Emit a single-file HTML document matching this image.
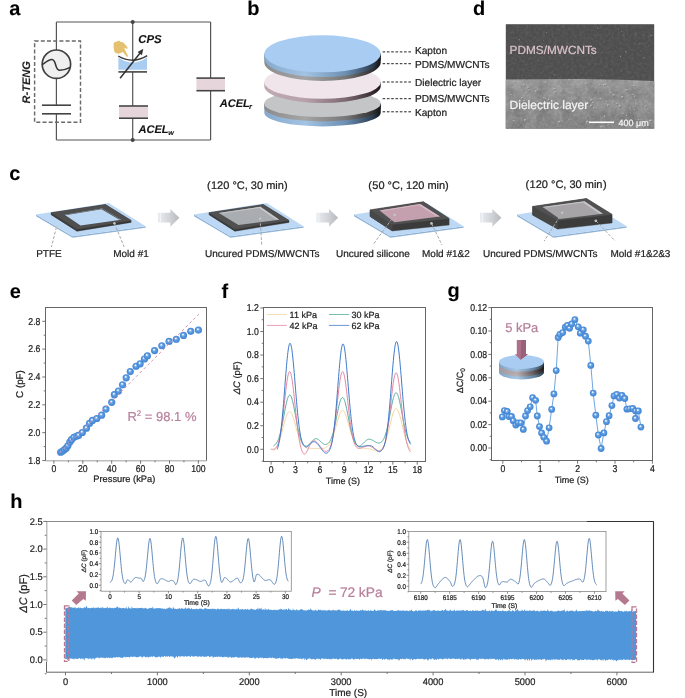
<!DOCTYPE html>
<html><head><meta charset="utf-8"><style>
html,body{margin:0;padding:0;background:#fff;}
body{width:685px;height:698px;overflow:hidden;}
svg{display:block;font-family:"Liberation Sans", sans-serif;will-change:transform;text-rendering:geometricPrecision;}
</style></head><body>
<svg width="685" height="698" viewBox="0 0 685 698">
<defs><linearGradient id="gBlue" x1="0" y1="0" x2="1" y2="0"><stop offset="0" stop-color="#86a9cc"/><stop offset="0.35" stop-color="#a3c3e3"/><stop offset="0.7" stop-color="#6d8fb2"/><stop offset="0.93" stop-color="#2c3e52"/><stop offset="1" stop-color="#111"/></linearGradient><linearGradient id="gGray" x1="0" y1="0" x2="1" y2="0"><stop offset="0" stop-color="#8c8c8c"/><stop offset="0.35" stop-color="#a5a5a5"/><stop offset="0.7" stop-color="#777"/><stop offset="0.93" stop-color="#333"/><stop offset="1" stop-color="#111"/></linearGradient><linearGradient id="gPink" x1="0" y1="0" x2="1" y2="0"><stop offset="0" stop-color="#bfaab2"/><stop offset="0.35" stop-color="#b8a2aa"/><stop offset="0.7" stop-color="#7c6870"/><stop offset="0.93" stop-color="#3a2e33"/><stop offset="1" stop-color="#1a1418"/></linearGradient><linearGradient id="gSemTop" x1="0" y1="0" x2="0" y2="1"><stop offset="0" stop-color="#4e4e4e"/><stop offset="0.8" stop-color="#4f4f4f"/><stop offset="1" stop-color="#545454"/></linearGradient><linearGradient id="gSemBot" x1="0" y1="0" x2="0" y2="1"><stop offset="0" stop-color="#a2a2a2"/><stop offset="0.25" stop-color="#959595"/><stop offset="1" stop-color="#898989"/></linearGradient><filter id="semNoise" x="0" y="0" width="1" height="1"><feTurbulence type="fractalNoise" baseFrequency="0.35" numOctaves="2" seed="4"/><feColorMatrix type="matrix" values="0 0 0 0 1  0 0 0 0 1  0 0 0 0 1  0.9 0 0 0 -0.35"/></filter><filter id="semNoise2" x="0" y="0" width="1" height="1"><feTurbulence type="fractalNoise" baseFrequency="0.08" numOctaves="3" seed="9"/><feColorMatrix type="matrix" values="0 0 0 0 0  0 0 0 0 0  0 0 0 0 0  0.9 0 0 0 -0.3"/></filter><clipPath id="semBotClip"><path d="M505.8,79.6 L540,79.2 L580,79.1 L620,79.8 L654.2,80.9 L654.2,128.6 L505.8,128.6 Z"/></clipPath><linearGradient id="ga157" x1="0" y1="0" x2="1" y2="0"><stop offset="0" stop-color="#eaeef2"/><stop offset="0.6" stop-color="#cdd0d4"/><stop offset="1" stop-color="#b6b8bb"/></linearGradient><linearGradient id="ga316" x1="0" y1="0" x2="1" y2="0"><stop offset="0" stop-color="#eaeef2"/><stop offset="0.6" stop-color="#cdd0d4"/><stop offset="1" stop-color="#b6b8bb"/></linearGradient><linearGradient id="ga480" x1="0" y1="0" x2="1" y2="0"><stop offset="0" stop-color="#eaeef2"/><stop offset="0.6" stop-color="#cdd0d4"/><stop offset="1" stop-color="#b6b8bb"/></linearGradient><radialGradient id="sph" cx="0.5" cy="0.5" r="0.5" fx="0.4" fy="0.34"><stop offset="0" stop-color="#ffffff"/><stop offset="0.14" stop-color="#e4effb"/><stop offset="0.36" stop-color="#72aae6"/><stop offset="0.7" stop-color="#4c8fdb"/><stop offset="1" stop-color="#4686d2"/></radialGradient><linearGradient id="gDiscSide" x1="0" y1="0" x2="1" y2="0"><stop offset="0" stop-color="#9a9a9a"/><stop offset="0.4" stop-color="#b5b5b5"/><stop offset="0.75" stop-color="#6a6a6a"/><stop offset="1" stop-color="#222"/></linearGradient><linearGradient id="gDiscBlue" x1="0" y1="0" x2="1" y2="0"><stop offset="0" stop-color="#7fa3c8"/><stop offset="0.4" stop-color="#a7c7e8"/><stop offset="0.8" stop-color="#5f7f9f"/><stop offset="1" stop-color="#2a3a4a"/></linearGradient><linearGradient id="gDiscPink" x1="0" y1="0" x2="1" y2="0"><stop offset="0" stop-color="#a89aa0"/><stop offset="0.4" stop-color="#b8a8b0"/><stop offset="0.75" stop-color="#6a5a62"/><stop offset="1" stop-color="#1a1418"/></linearGradient></defs>
<text x="9.30" y="14.60" font-size="20" fill="#000" stroke="#000" stroke-width="0.1" font-weight="bold" font-style="normal" text-anchor="start" >a</text>
<text x="247.30" y="14.60" font-size="20" fill="#000" stroke="#000" stroke-width="0.1" font-weight="bold" font-style="normal" text-anchor="start" >b</text>
<text x="473.00" y="14.60" font-size="20" fill="#000" stroke="#000" stroke-width="0.1" font-weight="bold" font-style="normal" text-anchor="start" >d</text>
<text x="9.20" y="179.80" font-size="20" fill="#000" stroke="#000" stroke-width="0.1" font-weight="bold" font-style="normal" text-anchor="start" >c</text>
<text x="9.80" y="298.30" font-size="20" fill="#000" stroke="#000" stroke-width="0.1" font-weight="bold" font-style="normal" text-anchor="start" >e</text>
<text x="221.50" y="298.30" font-size="20" fill="#000" stroke="#000" stroke-width="0.1" font-weight="bold" font-style="normal" text-anchor="start" >f</text>
<text x="447.50" y="296.50" font-size="20" fill="#000" stroke="#000" stroke-width="0.1" font-weight="bold" font-style="normal" text-anchor="start" >g</text>
<text x="10.20" y="508.20" font-size="20" fill="#000" stroke="#000" stroke-width="0.1" font-weight="bold" font-style="normal" text-anchor="start" >h</text>
<line x1="56.40" y1="22.00" x2="210.60" y2="22.00" stroke="#555" stroke-width="1.2" />
<line x1="56.40" y1="140.00" x2="210.60" y2="140.00" stroke="#555" stroke-width="1.2" />
<line x1="56.40" y1="22.00" x2="56.40" y2="50.00" stroke="#555" stroke-width="1.2" />
<line x1="56.40" y1="78.40" x2="56.40" y2="105.20" stroke="#555" stroke-width="1.2" />
<line x1="56.40" y1="113.80" x2="56.40" y2="140.00" stroke="#555" stroke-width="1.2" />
<circle cx="56.4" cy="64.2" r="14.2" fill="#efefef" stroke="#404040" stroke-width="1.7"/>
<path d="M42.2,64.6 C46,62 49,59.4 51.9,59.6 C54.6,59.8 55.1,63 56,66 C56.9,69 57.6,70.3 59.6,70.3 C63,70.3 66.5,69.3 70.2,67.4" fill="none" stroke="#333" stroke-width="1.5" />
<line x1="42.00" y1="105.20" x2="71.00" y2="105.20" stroke="#444" stroke-width="1.6" />
<line x1="42.00" y1="113.80" x2="71.00" y2="113.80" stroke="#444" stroke-width="1.6" />
<rect x="34.6" y="40.9" width="45.9" height="81.3" fill="none" stroke="#6a6a6a" stroke-width="1.45" stroke-dasharray="4,2.2"/>
<text x="29.60" y="82.30" font-size="11" fill="#222" stroke="#222" stroke-width="0.1" font-weight="bold" font-style="italic" text-anchor="middle" transform="rotate(-90 29.6 82.3)">R-TENG</text>
<line x1="132.70" y1="22.00" x2="132.70" y2="60.00" stroke="#555" stroke-width="1.2" />
<line x1="132.70" y1="72.00" x2="132.70" y2="106.00" stroke="#555" stroke-width="1.2" />
<line x1="132.70" y1="118.20" x2="132.70" y2="140.00" stroke="#555" stroke-width="1.2" />
<circle cx="132.7" cy="22" r="2" fill="#444"/><circle cx="132.7" cy="140" r="2" fill="#444"/>
<path d="M118.4,57.6 Q132.7,67.6 147,57.6 L147,69.8 L118.4,69.8 Z" fill="#a9cdf0" stroke="none" stroke-width="1" />
<path d="M118.2,56 Q132.7,64.6 147.2,55.6" fill="none" stroke="#3a3a3a" stroke-width="1.4" />
<line x1="118.40" y1="71.90" x2="147.00" y2="71.90" stroke="#444" stroke-width="1.6" />
<line x1="120.10" y1="78.30" x2="141.50" y2="51.20" stroke="#333" stroke-width="1.5" />
<polygon points="143.30,48.80 137.60,51.90 141.90,55.30" fill="#333" stroke="none" stroke-width="1" />
<path d="M113.6,44 C113.5,42.5 115.5,42 117,41.6 L119,40.5 L120.5,41.8 C122,42 123.5,42.5 124.3,43.5 L127.3,47 C128,48 127.3,49.2 126.3,48.7 L124.8,47.6 L124.5,49 L127.9,55.5 C128.3,56.5 127.2,57.3 126.4,56.5 L122.8,51.8 C121.5,53 119.5,53.8 117.5,53.6 C115.5,53.4 114.2,52 113.9,50 C113.6,48 113.6,46 113.6,44 Z" fill="#e4c070" stroke="none" stroke-width="1" />
<text x="138.30" y="42.70" font-size="11.4" fill="#111" stroke="#111" stroke-width="0.1" font-weight="bold" font-style="italic" text-anchor="start" >CPS</text>
<rect x="119" y="106.8" width="29" height="10.6" fill="#e7d5dc"/>
<line x1="119.00" y1="106.00" x2="148.00" y2="106.00" stroke="#444" stroke-width="1.6" />
<line x1="119.00" y1="118.20" x2="148.00" y2="118.20" stroke="#444" stroke-width="1.6" />
<text x="138.40" y="132.60" font-size="11.1" fill="#111" stroke="#111" stroke-width="0.1" font-weight="bold" font-style="italic" text-anchor="start" >ACEL</text>
<text x="168.20" y="135.40" font-size="7.2" fill="#111" stroke="#111" stroke-width="0.1" font-weight="bold" font-style="italic" text-anchor="start" >w</text>
<line x1="210.60" y1="22.00" x2="210.60" y2="78.10" stroke="#555" stroke-width="1.2" />
<line x1="210.60" y1="90.70" x2="210.60" y2="140.00" stroke="#555" stroke-width="1.2" />
<rect x="196.4" y="78.9" width="28.6" height="11" fill="#e7d5dc"/>
<line x1="196.40" y1="78.10" x2="225.00" y2="78.10" stroke="#444" stroke-width="1.6" />
<line x1="196.40" y1="90.70" x2="225.00" y2="90.70" stroke="#444" stroke-width="1.6" />
<text x="219.70" y="106.80" font-size="11.1" fill="#111" stroke="#111" stroke-width="0.1" font-weight="bold" font-style="italic" text-anchor="start" >ACEL</text>
<text x="249.00" y="109.40" font-size="7.4" fill="#111" stroke="#111" stroke-width="0.1" font-weight="bold" font-style="italic" text-anchor="start" >r</text>
<path d="M264.30,103.50 L264.30,112.80 A58.2,13.6 0 0 0 380.70,112.80 L380.70,103.50 Z" fill="url(#gBlue)" stroke="none" stroke-width="1" />
<path d="M264.30,103.50 L264.30,107.80 A58.2,13.6 0 0 0 380.70,107.80 L380.70,103.50 Z" fill="url(#gGray)" stroke="none" stroke-width="1" />
<ellipse cx="322.5" cy="103.5" rx="58.2" ry="13.6" fill="#c4c5c6"/>
<path d="M264.30,82.00 L264.30,86.30 A58.2,16.7 0 0 0 380.70,86.30 L380.70,82.00 Z" fill="url(#gPink)" stroke="none" stroke-width="1" />
<ellipse cx="322.5" cy="82" rx="58.2" ry="16.7" fill="#efe5ea"/>
<path d="M264.30,53.80 L264.30,62.40 A58.2,18.5 0 0 0 380.70,62.40 L380.70,53.80 Z" fill="url(#gGray)" stroke="none" stroke-width="1" />
<path d="M264.30,53.80 L264.30,58.60 A58.2,18.5 0 0 0 380.70,58.60 L380.70,53.80 Z" fill="url(#gBlue)" stroke="none" stroke-width="1" />
<ellipse cx="322.5" cy="53.8" rx="58.2" ry="18.5" fill="#a9cdf2"/>
<line x1="382.60" y1="51.90" x2="412.60" y2="51.90" stroke="#222" stroke-width="1" stroke-dasharray="2.6,1.7"/>
<text x="415.00" y="54.40" font-size="10.1" fill="#1e1e1e" stroke="#1e1e1e" stroke-width="0.22" font-weight="normal" font-style="normal" text-anchor="start" >Kapton</text>
<line x1="382.60" y1="63.70" x2="412.60" y2="63.70" stroke="#222" stroke-width="1" stroke-dasharray="2.6,1.7"/>
<text x="415.00" y="68.40" font-size="10.1" fill="#1e1e1e" stroke="#1e1e1e" stroke-width="0.22" font-weight="normal" font-style="normal" text-anchor="start" >PDMS/MWCNTs</text>
<line x1="382.60" y1="82.00" x2="412.60" y2="82.00" stroke="#222" stroke-width="1" stroke-dasharray="2.6,1.7"/>
<text x="415.00" y="85.90" font-size="10.1" fill="#1e1e1e" stroke="#1e1e1e" stroke-width="0.22" font-weight="normal" font-style="normal" text-anchor="start" >Dielectric layer</text>
<line x1="382.60" y1="98.70" x2="412.60" y2="98.70" stroke="#222" stroke-width="1" stroke-dasharray="2.6,1.7"/>
<text x="415.00" y="102.20" font-size="10.1" fill="#1e1e1e" stroke="#1e1e1e" stroke-width="0.22" font-weight="normal" font-style="normal" text-anchor="start" >PDMS/MWCNTs</text>
<line x1="382.60" y1="111.80" x2="412.60" y2="111.80" stroke="#222" stroke-width="1" stroke-dasharray="2.6,1.7"/>
<text x="415.00" y="115.70" font-size="10.1" fill="#1e1e1e" stroke="#1e1e1e" stroke-width="0.22" font-weight="normal" font-style="normal" text-anchor="start" >Kapton</text>
<rect x="505.8" y="24.2" width="148.4" height="104.4" fill="url(#gSemTop)"/>
<path d="M505.8,79.6 L540,79.2 L580,79.1 L620,79.8 L654.2,80.9 L654.2,128.6 L505.8,128.6 Z" fill="url(#gSemBot)" stroke="none" stroke-width="1" />
<rect x="505.8" y="24.2" width="148.4" height="55" filter="url(#semNoise)" opacity="0.18"/>
<g clip-path="url(#semBotClip)"><rect x="505.8" y="78" width="148.4" height="51" filter="url(#semNoise2)" opacity="0.35"/><rect x="505.8" y="78" width="148.4" height="51" filter="url(#semNoise)" opacity="0.35"/></g>
<circle cx="554.3" cy="88.8" r="0.89" fill="#c8c8c8" opacity="0.8"/><circle cx="554.9" cy="89.7" r="0.80" fill="#6a6a6a" opacity="0.6"/>
<circle cx="517.6" cy="106.1" r="0.72" fill="#c8c8c8" opacity="0.8"/><circle cx="518.2" cy="107.0" r="0.65" fill="#6a6a6a" opacity="0.6"/>
<circle cx="515.5" cy="104.8" r="0.52" fill="#c8c8c8" opacity="0.8"/><circle cx="516.1" cy="105.7" r="0.47" fill="#6a6a6a" opacity="0.6"/>
<circle cx="570.3" cy="85.1" r="0.55" fill="#c8c8c8" opacity="0.8"/><circle cx="570.9" cy="86.0" r="0.50" fill="#6a6a6a" opacity="0.6"/>
<circle cx="569.0" cy="119.2" r="0.57" fill="#c8c8c8" opacity="0.8"/><circle cx="569.6" cy="120.1" r="0.52" fill="#6a6a6a" opacity="0.6"/>
<circle cx="539.6" cy="110.2" r="1.07" fill="#c8c8c8" opacity="0.8"/><circle cx="540.2" cy="111.1" r="0.96" fill="#6a6a6a" opacity="0.6"/>
<circle cx="591.3" cy="99.9" r="1.09" fill="#c8c8c8" opacity="0.8"/><circle cx="591.9" cy="100.8" r="0.98" fill="#6a6a6a" opacity="0.6"/>
<circle cx="513.8" cy="120.6" r="0.67" fill="#c8c8c8" opacity="0.8"/><circle cx="514.4" cy="121.5" r="0.61" fill="#6a6a6a" opacity="0.6"/>
<circle cx="528.1" cy="87.3" r="0.69" fill="#c8c8c8" opacity="0.8"/><circle cx="528.7" cy="88.2" r="0.62" fill="#6a6a6a" opacity="0.6"/>
<circle cx="626.2" cy="90.1" r="0.85" fill="#c8c8c8" opacity="0.8"/><circle cx="626.8" cy="91.0" r="0.76" fill="#6a6a6a" opacity="0.6"/>
<circle cx="600.3" cy="98.8" r="0.83" fill="#c8c8c8" opacity="0.8"/><circle cx="600.9" cy="99.7" r="0.75" fill="#6a6a6a" opacity="0.6"/>
<circle cx="516.2" cy="84.7" r="0.62" fill="#c8c8c8" opacity="0.8"/><circle cx="516.8" cy="85.6" r="0.56" fill="#6a6a6a" opacity="0.6"/>
<circle cx="606.3" cy="101.2" r="0.69" fill="#c8c8c8" opacity="0.8"/><circle cx="606.9" cy="102.1" r="0.62" fill="#6a6a6a" opacity="0.6"/>
<circle cx="592.5" cy="102.4" r="0.68" fill="#c8c8c8" opacity="0.8"/><circle cx="593.1" cy="103.3" r="0.61" fill="#6a6a6a" opacity="0.6"/>
<circle cx="623.0" cy="113.5" r="0.65" fill="#c8c8c8" opacity="0.8"/><circle cx="623.6" cy="114.4" r="0.58" fill="#6a6a6a" opacity="0.6"/>
<circle cx="590.9" cy="105.6" r="1.03" fill="#c8c8c8" opacity="0.8"/><circle cx="591.5" cy="106.5" r="0.92" fill="#6a6a6a" opacity="0.6"/>
<circle cx="613.5" cy="95.0" r="1.09" fill="#c8c8c8" opacity="0.8"/><circle cx="614.1" cy="95.9" r="0.98" fill="#6a6a6a" opacity="0.6"/>
<circle cx="524.2" cy="100.8" r="0.95" fill="#c8c8c8" opacity="0.8"/><circle cx="524.8" cy="101.7" r="0.86" fill="#6a6a6a" opacity="0.6"/>
<circle cx="529.2" cy="104.0" r="0.52" fill="#c8c8c8" opacity="0.8"/><circle cx="529.8" cy="104.9" r="0.47" fill="#6a6a6a" opacity="0.6"/>
<circle cx="604.6" cy="116.4" r="0.84" fill="#c8c8c8" opacity="0.8"/><circle cx="605.2" cy="117.3" r="0.76" fill="#6a6a6a" opacity="0.6"/>
<circle cx="634.8" cy="96.1" r="0.92" fill="#c8c8c8" opacity="0.8"/><circle cx="635.4" cy="97.0" r="0.83" fill="#6a6a6a" opacity="0.6"/>
<circle cx="593.8" cy="108.1" r="0.77" fill="#c8c8c8" opacity="0.8"/><circle cx="594.4" cy="109.0" r="0.70" fill="#6a6a6a" opacity="0.6"/>
<circle cx="629.6" cy="124.5" r="0.78" fill="#c8c8c8" opacity="0.8"/><circle cx="630.2" cy="125.4" r="0.71" fill="#6a6a6a" opacity="0.6"/>
<circle cx="604.0" cy="84.7" r="0.92" fill="#c8c8c8" opacity="0.8"/><circle cx="604.6" cy="85.6" r="0.83" fill="#6a6a6a" opacity="0.6"/>
<circle cx="601.5" cy="126.7" r="0.99" fill="#c8c8c8" opacity="0.8"/><circle cx="602.1" cy="127.6" r="0.89" fill="#6a6a6a" opacity="0.6"/>
<circle cx="548.6" cy="99.4" r="0.90" fill="#c8c8c8" opacity="0.8"/><circle cx="549.2" cy="100.3" r="0.81" fill="#6a6a6a" opacity="0.6"/>
<circle cx="510.3" cy="102.8" r="0.60" fill="#c8c8c8" opacity="0.8"/><circle cx="510.9" cy="103.7" r="0.54" fill="#6a6a6a" opacity="0.6"/>
<circle cx="524.1" cy="84.7" r="0.96" fill="#c8c8c8" opacity="0.8"/><circle cx="524.7" cy="85.6" r="0.86" fill="#6a6a6a" opacity="0.6"/>
<circle cx="525.9" cy="93.1" r="0.73" fill="#c8c8c8" opacity="0.8"/><circle cx="526.5" cy="94.0" r="0.66" fill="#6a6a6a" opacity="0.6"/>
<circle cx="634.2" cy="85.6" r="0.77" fill="#c8c8c8" opacity="0.8"/><circle cx="634.8" cy="86.5" r="0.69" fill="#6a6a6a" opacity="0.6"/>
<circle cx="587.2" cy="121.8" r="0.99" fill="#c8c8c8" opacity="0.8"/><circle cx="587.8" cy="122.7" r="0.89" fill="#6a6a6a" opacity="0.6"/>
<circle cx="633.1" cy="94.5" r="0.75" fill="#c8c8c8" opacity="0.8"/><circle cx="633.7" cy="95.4" r="0.67" fill="#6a6a6a" opacity="0.6"/>
<circle cx="559.4" cy="121.8" r="1.07" fill="#c8c8c8" opacity="0.8"/><circle cx="560.0" cy="122.7" r="0.97" fill="#6a6a6a" opacity="0.6"/>
<circle cx="529.0" cy="89.9" r="0.64" fill="#c8c8c8" opacity="0.8"/><circle cx="529.6" cy="90.8" r="0.58" fill="#6a6a6a" opacity="0.6"/>
<circle cx="541.1" cy="103.8" r="0.85" fill="#c8c8c8" opacity="0.8"/><circle cx="541.7" cy="104.7" r="0.77" fill="#6a6a6a" opacity="0.6"/>
<circle cx="545.4" cy="82.2" r="0.75" fill="#c8c8c8" opacity="0.8"/><circle cx="546.0" cy="83.1" r="0.68" fill="#6a6a6a" opacity="0.6"/>
<circle cx="560.9" cy="107.5" r="1.07" fill="#c8c8c8" opacity="0.8"/><circle cx="561.5" cy="108.4" r="0.96" fill="#6a6a6a" opacity="0.6"/>
<circle cx="607.8" cy="105.2" r="0.87" fill="#c8c8c8" opacity="0.8"/><circle cx="608.4" cy="106.1" r="0.78" fill="#6a6a6a" opacity="0.6"/>
<circle cx="605.7" cy="84.4" r="1.04" fill="#c8c8c8" opacity="0.8"/><circle cx="606.3" cy="85.3" r="0.94" fill="#6a6a6a" opacity="0.6"/>
<circle cx="620.9" cy="121.4" r="0.98" fill="#c8c8c8" opacity="0.8"/><circle cx="621.5" cy="122.3" r="0.88" fill="#6a6a6a" opacity="0.6"/>
<circle cx="564.3" cy="100.0" r="0.56" fill="#c8c8c8" opacity="0.8"/><circle cx="564.9" cy="100.9" r="0.51" fill="#6a6a6a" opacity="0.6"/>
<circle cx="599.6" cy="84.8" r="0.54" fill="#c8c8c8" opacity="0.8"/><circle cx="600.2" cy="85.7" r="0.49" fill="#6a6a6a" opacity="0.6"/>
<circle cx="537.5" cy="89.3" r="0.70" fill="#c8c8c8" opacity="0.8"/><circle cx="538.1" cy="90.2" r="0.63" fill="#6a6a6a" opacity="0.6"/>
<circle cx="514.7" cy="82.0" r="0.59" fill="#c8c8c8" opacity="0.8"/><circle cx="515.3" cy="82.9" r="0.53" fill="#6a6a6a" opacity="0.6"/>
<circle cx="521.8" cy="98.4" r="0.52" fill="#c8c8c8" opacity="0.8"/><circle cx="522.4" cy="99.3" r="0.46" fill="#6a6a6a" opacity="0.6"/>
<circle cx="634.7" cy="109.6" r="0.59" fill="#c8c8c8" opacity="0.8"/><circle cx="635.3" cy="110.5" r="0.53" fill="#6a6a6a" opacity="0.6"/>
<circle cx="543.8" cy="97.6" r="0.72" fill="#c8c8c8" opacity="0.8"/><circle cx="544.4" cy="98.5" r="0.65" fill="#6a6a6a" opacity="0.6"/>
<circle cx="524.9" cy="120.2" r="1.10" fill="#c8c8c8" opacity="0.8"/><circle cx="525.5" cy="121.1" r="0.99" fill="#6a6a6a" opacity="0.6"/>
<circle cx="575.0" cy="103.8" r="0.55" fill="#c8c8c8" opacity="0.8"/><circle cx="575.6" cy="104.7" r="0.50" fill="#6a6a6a" opacity="0.6"/>
<circle cx="521.9" cy="97.4" r="0.66" fill="#c8c8c8" opacity="0.8"/><circle cx="522.5" cy="98.3" r="0.59" fill="#6a6a6a" opacity="0.6"/>
<circle cx="628.0" cy="89.3" r="0.51" fill="#c8c8c8" opacity="0.8"/><circle cx="628.6" cy="90.2" r="0.46" fill="#6a6a6a" opacity="0.6"/>
<circle cx="645.8" cy="105.8" r="0.59" fill="#c8c8c8" opacity="0.8"/><circle cx="646.4" cy="106.7" r="0.53" fill="#6a6a6a" opacity="0.6"/>
<circle cx="586.3" cy="83.2" r="0.82" fill="#c8c8c8" opacity="0.8"/><circle cx="586.9" cy="84.1" r="0.74" fill="#6a6a6a" opacity="0.6"/>
<circle cx="649.9" cy="120.8" r="0.92" fill="#c8c8c8" opacity="0.8"/><circle cx="650.5" cy="121.7" r="0.83" fill="#6a6a6a" opacity="0.6"/>
<circle cx="545.1" cy="98.5" r="0.60" fill="#c8c8c8" opacity="0.8"/><circle cx="545.7" cy="99.4" r="0.54" fill="#6a6a6a" opacity="0.6"/>
<circle cx="619.7" cy="106.0" r="0.97" fill="#c8c8c8" opacity="0.8"/><circle cx="620.3" cy="106.9" r="0.87" fill="#6a6a6a" opacity="0.6"/>
<circle cx="555.1" cy="92.0" r="0.99" fill="#c8c8c8" opacity="0.8"/><circle cx="555.7" cy="92.9" r="0.89" fill="#6a6a6a" opacity="0.6"/>
<circle cx="650.8" cy="120.4" r="0.98" fill="#c8c8c8" opacity="0.8"/><circle cx="651.4" cy="121.3" r="0.89" fill="#6a6a6a" opacity="0.6"/>
<circle cx="626.5" cy="115.3" r="0.64" fill="#c8c8c8" opacity="0.8"/><circle cx="627.1" cy="116.2" r="0.57" fill="#6a6a6a" opacity="0.6"/>
<circle cx="582.6" cy="98.0" r="0.52" fill="#c8c8c8" opacity="0.8"/><circle cx="583.2" cy="98.9" r="0.47" fill="#6a6a6a" opacity="0.6"/>
<circle cx="511.1" cy="94.6" r="0.66" fill="#c8c8c8" opacity="0.8"/><circle cx="511.7" cy="95.5" r="0.59" fill="#6a6a6a" opacity="0.6"/>
<circle cx="608.1" cy="125.0" r="0.77" fill="#c8c8c8" opacity="0.8"/><circle cx="608.7" cy="125.9" r="0.69" fill="#6a6a6a" opacity="0.6"/>
<circle cx="643.8" cy="126.5" r="1.07" fill="#c8c8c8" opacity="0.8"/><circle cx="644.4" cy="127.4" r="0.97" fill="#6a6a6a" opacity="0.6"/>
<circle cx="560.2" cy="91.9" r="0.64" fill="#c8c8c8" opacity="0.8"/><circle cx="560.8" cy="92.8" r="0.57" fill="#6a6a6a" opacity="0.6"/>
<circle cx="535.7" cy="91.2" r="0.87" fill="#c8c8c8" opacity="0.8"/><circle cx="536.3" cy="92.1" r="0.79" fill="#6a6a6a" opacity="0.6"/>
<circle cx="638.4" cy="119.8" r="0.79" fill="#c8c8c8" opacity="0.8"/><circle cx="639.0" cy="120.7" r="0.71" fill="#6a6a6a" opacity="0.6"/>
<circle cx="602.3" cy="118.0" r="0.55" fill="#c8c8c8" opacity="0.8"/><circle cx="602.9" cy="118.9" r="0.50" fill="#6a6a6a" opacity="0.6"/>
<circle cx="603.4" cy="122.9" r="0.97" fill="#c8c8c8" opacity="0.8"/><circle cx="604.0" cy="123.8" r="0.87" fill="#6a6a6a" opacity="0.6"/>
<circle cx="616.5" cy="103.5" r="0.61" fill="#c8c8c8" opacity="0.8"/><circle cx="617.1" cy="104.4" r="0.55" fill="#6a6a6a" opacity="0.6"/>
<circle cx="622.2" cy="97.0" r="0.98" fill="#c8c8c8" opacity="0.8"/><circle cx="622.8" cy="97.9" r="0.88" fill="#6a6a6a" opacity="0.6"/>
<circle cx="648.9" cy="45.8" r="0.46" fill="#8a8a8a"/>
<circle cx="612.8" cy="34.5" r="0.35" fill="#8a8a8a"/>
<circle cx="593.3" cy="49.3" r="0.56" fill="#a0a0a0"/>
<circle cx="627.7" cy="75.0" r="0.56" fill="#6c6c6c"/>
<circle cx="529.8" cy="53.4" r="0.31" fill="#a0a0a0"/>
<circle cx="601.9" cy="52.3" r="0.67" fill="#6c6c6c"/>
<circle cx="651.0" cy="35.7" r="0.65" fill="#8a8a8a"/>
<circle cx="543.8" cy="40.6" r="0.40" fill="#a0a0a0"/>
<circle cx="554.6" cy="53.2" r="0.63" fill="#8a8a8a"/>
<circle cx="639.9" cy="43.7" r="0.48" fill="#a0a0a0"/>
<circle cx="626.0" cy="51.8" r="0.63" fill="#a0a0a0"/>
<circle cx="526.1" cy="33.6" r="0.50" fill="#6c6c6c"/>
<circle cx="620.4" cy="56.4" r="0.61" fill="#8a8a8a"/>
<circle cx="532.2" cy="49.7" r="0.59" fill="#a0a0a0"/>
<circle cx="516.0" cy="60.1" r="0.51" fill="#6c6c6c"/>
<circle cx="621.5" cy="31.3" r="0.52" fill="#8a8a8a"/>
<circle cx="534.9" cy="28.1" r="0.34" fill="#6c6c6c"/>
<circle cx="589.0" cy="64.0" r="0.66" fill="#6c6c6c"/>
<circle cx="554.5" cy="74.7" r="0.54" fill="#8a8a8a"/>
<circle cx="608.1" cy="48.6" r="0.51" fill="#6c6c6c"/>
<circle cx="581.1" cy="38.4" r="0.51" fill="#6c6c6c"/>
<circle cx="641.7" cy="70.6" r="0.38" fill="#6c6c6c"/>
<circle cx="527.0" cy="32.1" r="0.48" fill="#8a8a8a"/>
<circle cx="605.0" cy="47.4" r="0.39" fill="#6c6c6c"/>
<circle cx="621.5" cy="70.9" r="0.36" fill="#a0a0a0"/>
<circle cx="600.9" cy="44.3" r="0.40" fill="#8a8a8a"/>
<circle cx="648.3" cy="37.0" r="0.68" fill="#6c6c6c"/>
<circle cx="636.2" cy="34.1" r="0.57" fill="#8a8a8a"/>
<circle cx="530.6" cy="47.6" r="0.51" fill="#6c6c6c"/>
<circle cx="568.5" cy="43.8" r="0.34" fill="#6c6c6c"/>
<circle cx="509.8" cy="53.7" r="0.48" fill="#8a8a8a"/>
<circle cx="563.1" cy="51.9" r="0.42" fill="#8a8a8a"/>
<circle cx="523.5" cy="71.9" r="0.39" fill="#8a8a8a"/>
<circle cx="519.3" cy="39.6" r="0.66" fill="#8a8a8a"/>
<circle cx="546.5" cy="32.5" r="0.47" fill="#a0a0a0"/>
<circle cx="626.6" cy="38.9" r="0.36" fill="#a0a0a0"/>
<circle cx="590.3" cy="61.0" r="0.34" fill="#8a8a8a"/>
<circle cx="623.7" cy="35.2" r="0.66" fill="#6c6c6c"/>
<circle cx="644.0" cy="57.7" r="0.62" fill="#8a8a8a"/>
<circle cx="595.8" cy="37.1" r="0.41" fill="#8a8a8a"/>
<circle cx="573.3" cy="43.0" r="0.52" fill="#6c6c6c"/>
<circle cx="597.8" cy="28.2" r="0.58" fill="#8a8a8a"/>
<circle cx="648.5" cy="39.1" r="0.37" fill="#6c6c6c"/>
<circle cx="598.8" cy="52.6" r="0.38" fill="#6c6c6c"/>
<circle cx="580.0" cy="34.9" r="0.44" fill="#8a8a8a"/>
<text x="509.60" y="54.30" font-size="11.8" fill="#dcc3cc" stroke="#dcc3cc" stroke-width="0.22" font-weight="normal" font-style="normal" text-anchor="start" >PDMS/MWCNTs</text>
<text x="509.60" y="109.20" font-size="12" fill="#f4f4f4" stroke="#f4f4f4" stroke-width="0.22" font-weight="normal" font-style="normal" text-anchor="start" >Dielectric layer</text>
<line x1="588.80" y1="122.30" x2="614.00" y2="122.30" stroke="#fff" stroke-width="1.6" />
<text x="618.50" y="125.60" font-size="9" fill="#f4f4f4" stroke="#f4f4f4" stroke-width="0.22" font-weight="normal" font-style="normal" text-anchor="start" >400 μm</text>
<polygon points="36.10,214.60 72.60,236.20 145.60,226.20 145.60,227.80 72.60,237.80 36.10,216.20" fill="#8fb3d6" stroke="none" stroke-width="1" />
<polygon points="36.10,214.60 108.80,202.90 145.60,226.20 72.60,236.20" fill="#bcd8f4" stroke="none" stroke-width="1" />
<polygon points="51.30,212.70 105.40,204.60 131.10,220.40 131.10,222.40 77.20,231.20 51.30,214.70" fill="#363636" stroke="#363636" stroke-width="0.4" />
<polygon points="51.30,212.70 77.20,229.20 77.20,231.20 51.30,214.70" fill="#3d3d3d" stroke="#3d3d3d" stroke-width="0.4" />
<polygon points="51.30,212.70 105.40,204.60 131.10,220.40 77.20,229.20" fill="#4f4f4f" stroke="#4f4f4f" stroke-width="0.4" />
<polygon points="64.70,214.70 102.20,208.50 121.20,219.70 80.50,225.60" fill="#bcd8f4" stroke="none" stroke-width="1" />
<polygon points="64.70,214.70 102.20,208.50 121.20,219.70 118.94,219.50 101.46,209.20 66.96,214.90" fill="#5a5a5a" stroke="none" stroke-width="1" />
<line x1="56.50" y1="227.20" x2="51.40" y2="247.00" stroke="#a9a9a9" stroke-width="1" stroke-dasharray="3,1.6"/>
<circle cx="56.5" cy="227.2" r="1.3" fill="#c4c4c4"/>
<line x1="114.40" y1="223.20" x2="124.20" y2="247.00" stroke="#a9a9a9" stroke-width="1" stroke-dasharray="3,1.6"/>
<circle cx="114.4" cy="223.2" r="1.3" fill="#c4c4c4"/>
<text x="36.20" y="256.70" font-size="10" fill="#222" stroke="#222" stroke-width="0.22" font-weight="normal" font-style="normal" text-anchor="start" >PTFE</text>
<text x="113.20" y="256.70" font-size="10" fill="#222" stroke="#222" stroke-width="0.22" font-weight="normal" font-style="normal" text-anchor="start" >Mold #1</text>
<polygon points="157.90,212.70 170.30,212.70 170.30,208.90 179.40,217.80 170.30,226.80 170.30,222.50 157.90,222.50" fill="url(#ga157)" stroke="none" stroke-width="1" />
<line x1="160.50" y1="212.70" x2="160.50" y2="222.50" stroke="#f8f9fa" stroke-width="0.7" />
<polygon points="194.00,214.60 230.50,236.20 303.50,226.20 303.50,227.80 230.50,237.80 194.00,216.20" fill="#8fb3d6" stroke="none" stroke-width="1" />
<polygon points="194.00,214.60 266.70,202.90 303.50,226.20 230.50,236.20" fill="#bcd8f4" stroke="none" stroke-width="1" />
<polygon points="209.20,212.70 263.30,204.60 289.00,220.40 289.00,222.40 235.10,231.20 209.20,214.70" fill="#363636" stroke="#363636" stroke-width="0.4" />
<polygon points="209.20,212.70 235.10,229.20 235.10,231.20 209.20,214.70" fill="#3d3d3d" stroke="#3d3d3d" stroke-width="0.4" />
<polygon points="209.20,212.70 263.30,204.60 289.00,220.40 235.10,229.20" fill="#505050" stroke="#505050" stroke-width="0.4" />
<polygon points="218.80,213.10 260.40,206.80 279.20,219.70 238.50,225.10" fill="#a9adb2" stroke="none" stroke-width="1" />
<polygon points="218.80,213.10 260.40,206.80 279.20,219.70 275.58,219.30 259.03,207.95 222.42,213.50" fill="#c6c8ca" stroke="none" stroke-width="1" />
<line x1="260.10" y1="218.70" x2="261.80" y2="246.00" stroke="#a9a9a9" stroke-width="1" stroke-dasharray="3,1.6"/>
<circle cx="260.1" cy="218.7" r="1.3" fill="#c4c4c4"/>
<text x="205.00" y="256.70" font-size="10" fill="#222" stroke="#222" stroke-width="0.22" font-weight="normal" font-style="normal" text-anchor="start" >Uncured PDMS/MWCNTs</text>
<text x="206.90" y="188.80" font-size="11" fill="#222" stroke="#222" stroke-width="0.22" font-weight="normal" font-style="normal" text-anchor="start" >(</text>
<text x="211.00" y="188.80" font-size="11" fill="#222" stroke="#222" stroke-width="0.22" font-weight="normal" font-style="normal" text-anchor="start" >120 °C, 30 min</text>
<text x="283.90" y="188.80" font-size="11" fill="#222" stroke="#222" stroke-width="0.22" font-weight="normal" font-style="normal" text-anchor="start" >)</text>
<polygon points="316.30,212.70 329.00,212.70 329.00,208.90 338.10,217.80 329.00,226.80 329.00,222.50 316.30,222.50" fill="url(#ga316)" stroke="none" stroke-width="1" />
<line x1="318.90" y1="212.70" x2="318.90" y2="222.50" stroke="#f8f9fa" stroke-width="0.7" />
<polygon points="354.00,214.60 390.50,236.20 463.50,226.20 463.50,227.80 390.50,237.80 354.00,216.20" fill="#8fb3d6" stroke="none" stroke-width="1" />
<polygon points="354.00,214.60 426.70,202.90 463.50,226.20 390.50,236.20" fill="#bcd8f4" stroke="none" stroke-width="1" />
<polygon points="370.10,209.90 423.30,201.80 449.10,218.50 449.10,225.00 392.30,230.90 370.10,216.40" fill="#3b3b3b" stroke="#3b3b3b" stroke-width="0.4" />
<polygon points="370.10,209.90 392.30,224.40 392.30,230.90 370.10,216.40" fill="#474747" stroke="#474747" stroke-width="0.4" />
<polygon points="370.10,209.90 423.30,201.80 449.10,218.50 392.30,224.40" fill="#515151" stroke="#515151" stroke-width="0.4" />
<polygon points="379.50,210.50 420.20,203.90 439.90,216.40 394.50,222.30" fill="#c4a0af" stroke="none" stroke-width="1" />
<polygon points="379.50,210.50 420.20,203.90 439.90,216.40 435.97,216.02 418.83,205.14 383.43,210.88" fill="#d6b8c4" stroke="none" stroke-width="1" />
<line x1="394.70" y1="215.10" x2="372.80" y2="245.00" stroke="#a9a9a9" stroke-width="1" stroke-dasharray="3,1.6"/>
<circle cx="394.7" cy="215.1" r="1.3" fill="#c4c4c4"/>
<line x1="431.50" y1="223.40" x2="442.00" y2="245.00" stroke="#a9a9a9" stroke-width="1" stroke-dasharray="3,1.6"/>
<circle cx="431.5" cy="223.4" r="1.3" fill="#c4c4c4"/>
<text x="336.00" y="256.70" font-size="10" fill="#222" stroke="#222" stroke-width="0.22" font-weight="normal" font-style="normal" text-anchor="start" >Uncured silicone</text>
<text x="422.00" y="256.70" font-size="10" fill="#222" stroke="#222" stroke-width="0.22" font-weight="normal" font-style="normal" text-anchor="start" >Mold #1&amp;2</text>
<text x="368.30" y="188.80" font-size="11" fill="#222" stroke="#222" stroke-width="0.22" font-weight="normal" font-style="normal" text-anchor="start" >(</text>
<text x="372.30" y="188.80" font-size="11" fill="#222" stroke="#222" stroke-width="0.22" font-weight="normal" font-style="normal" text-anchor="start" >50 °C, 120 min</text>
<text x="445.10" y="188.80" font-size="11" fill="#222" stroke="#222" stroke-width="0.22" font-weight="normal" font-style="normal" text-anchor="start" >)</text>
<polygon points="480.00,212.70 492.30,212.70 492.30,208.90 501.40,217.80 492.30,226.80 492.30,222.50 480.00,222.50" fill="url(#ga480)" stroke="none" stroke-width="1" />
<line x1="482.60" y1="212.70" x2="482.60" y2="222.50" stroke="#f8f9fa" stroke-width="0.7" />
<polygon points="517.10,214.60 553.60,236.20 626.60,226.20 626.60,227.80 553.60,237.80 517.10,216.20" fill="#8fb3d6" stroke="none" stroke-width="1" />
<polygon points="517.10,214.60 589.80,202.90 626.60,226.20 553.60,236.20" fill="#bcd8f4" stroke="none" stroke-width="1" />
<polygon points="532.60,206.50 586.50,198.60 612.10,214.40 612.10,222.90 557.80,229.10 532.60,215.00" fill="#3b3b3b" stroke="#3b3b3b" stroke-width="0.4" />
<polygon points="532.60,206.50 557.80,220.60 557.80,229.10 532.60,215.00" fill="#464646" stroke="#464646" stroke-width="0.4" />
<polygon points="532.60,206.50 586.50,198.60 612.10,214.40 557.80,220.60" fill="#525252" stroke="#525252" stroke-width="0.4" />
<polygon points="542.50,207.10 584.50,201.20 602.90,213.70 559.80,218.90" fill="#a7a4a8" stroke="none" stroke-width="1" />
<polygon points="542.50,207.10 584.50,201.20 602.90,213.70 598.97,213.27 582.97,202.40 546.43,207.53" fill="#c6c5c8" stroke="none" stroke-width="1" />
<line x1="562.20" y1="212.80" x2="544.20" y2="241.00" stroke="#a9a9a9" stroke-width="1" stroke-dasharray="3,1.6"/>
<circle cx="562.2" cy="212.8" r="1.3" fill="#c4c4c4"/>
<line x1="595.80" y1="220.70" x2="615.10" y2="241.00" stroke="#a9a9a9" stroke-width="1" stroke-dasharray="3,1.6"/>
<circle cx="595.8" cy="220.7" r="1.3" fill="#c4c4c4"/>
<text x="483.00" y="256.70" font-size="10" fill="#222" stroke="#222" stroke-width="0.22" font-weight="normal" font-style="normal" text-anchor="start" >Uncured PDMS/MWCNTs</text>
<text x="610.40" y="256.70" font-size="10" fill="#222" stroke="#222" stroke-width="0.22" font-weight="normal" font-style="normal" text-anchor="start" >Mold #1&amp;2&amp;3</text>
<text x="525.40" y="188.00" font-size="11" fill="#222" stroke="#222" stroke-width="0.22" font-weight="normal" font-style="normal" text-anchor="start" >(</text>
<text x="529.60" y="188.00" font-size="11" fill="#222" stroke="#222" stroke-width="0.22" font-weight="normal" font-style="normal" text-anchor="start" >120 °C, 30 min</text>
<text x="602.90" y="188.00" font-size="11" fill="#222" stroke="#222" stroke-width="0.22" font-weight="normal" font-style="normal" text-anchor="start" >)</text>
<rect x="45.50" y="307.50" width="161.00" height="153.00" fill="none" stroke="#666" stroke-width="1"/>
<line x1="45.50" y1="460.80" x2="206.50" y2="460.80" stroke="#bdbdbd" stroke-width="1.5" />
<line x1="42.30" y1="460.50" x2="45.50" y2="460.50" stroke="#666" stroke-width="0.9" />
<text transform="translate(40.40,463.74) scale(1,1.14)" x="0" y="0" font-size="8.7" fill="#222" stroke="#222" stroke-width="0.2" text-anchor="end">1.8</text>
<line x1="42.30" y1="432.66" x2="45.50" y2="432.66" stroke="#666" stroke-width="0.9" />
<text transform="translate(40.40,435.90) scale(1,1.14)" x="0" y="0" font-size="8.7" fill="#222" stroke="#222" stroke-width="0.2" text-anchor="end">2.0</text>
<line x1="42.30" y1="404.82" x2="45.50" y2="404.82" stroke="#666" stroke-width="0.9" />
<text transform="translate(40.40,408.06) scale(1,1.14)" x="0" y="0" font-size="8.7" fill="#222" stroke="#222" stroke-width="0.2" text-anchor="end">2.2</text>
<line x1="42.30" y1="376.98" x2="45.50" y2="376.98" stroke="#666" stroke-width="0.9" />
<text transform="translate(40.40,380.22) scale(1,1.14)" x="0" y="0" font-size="8.7" fill="#222" stroke="#222" stroke-width="0.2" text-anchor="end">2.4</text>
<line x1="42.30" y1="349.14" x2="45.50" y2="349.14" stroke="#666" stroke-width="0.9" />
<text transform="translate(40.40,352.38) scale(1,1.14)" x="0" y="0" font-size="8.7" fill="#222" stroke="#222" stroke-width="0.2" text-anchor="end">2.6</text>
<line x1="42.30" y1="321.30" x2="45.50" y2="321.30" stroke="#666" stroke-width="0.9" />
<text transform="translate(40.40,324.54) scale(1,1.14)" x="0" y="0" font-size="8.7" fill="#222" stroke="#222" stroke-width="0.2" text-anchor="end">2.8</text>
<line x1="43.70" y1="446.58" x2="45.50" y2="446.58" stroke="#666" stroke-width="0.9" />
<line x1="43.70" y1="418.74" x2="45.50" y2="418.74" stroke="#666" stroke-width="0.9" />
<line x1="43.70" y1="390.90" x2="45.50" y2="390.90" stroke="#666" stroke-width="0.9" />
<line x1="43.70" y1="363.06" x2="45.50" y2="363.06" stroke="#666" stroke-width="0.9" />
<line x1="43.70" y1="335.22" x2="45.50" y2="335.22" stroke="#666" stroke-width="0.9" />
<line x1="53.90" y1="460.50" x2="53.90" y2="463.70" stroke="#666" stroke-width="0.9" />
<text transform="translate(53.90,472.00) scale(1,1.14)" x="0" y="0" font-size="8.7" fill="#222" stroke="#222" stroke-width="0.2" text-anchor="middle">0</text>
<line x1="82.80" y1="460.50" x2="82.80" y2="463.70" stroke="#666" stroke-width="0.9" />
<text transform="translate(82.80,472.00) scale(1,1.14)" x="0" y="0" font-size="8.7" fill="#222" stroke="#222" stroke-width="0.2" text-anchor="middle">20</text>
<line x1="111.70" y1="460.50" x2="111.70" y2="463.70" stroke="#666" stroke-width="0.9" />
<text transform="translate(111.70,472.00) scale(1,1.14)" x="0" y="0" font-size="8.7" fill="#222" stroke="#222" stroke-width="0.2" text-anchor="middle">40</text>
<line x1="140.60" y1="460.50" x2="140.60" y2="463.70" stroke="#666" stroke-width="0.9" />
<text transform="translate(140.60,472.00) scale(1,1.14)" x="0" y="0" font-size="8.7" fill="#222" stroke="#222" stroke-width="0.2" text-anchor="middle">60</text>
<line x1="169.50" y1="460.50" x2="169.50" y2="463.70" stroke="#666" stroke-width="0.9" />
<text transform="translate(169.50,472.00) scale(1,1.14)" x="0" y="0" font-size="8.7" fill="#222" stroke="#222" stroke-width="0.2" text-anchor="middle">80</text>
<line x1="198.40" y1="460.50" x2="198.40" y2="463.70" stroke="#666" stroke-width="0.9" />
<text transform="translate(198.40,472.00) scale(1,1.14)" x="0" y="0" font-size="8.7" fill="#222" stroke="#222" stroke-width="0.2" text-anchor="middle">100</text>
<line x1="68.35" y1="460.50" x2="68.35" y2="462.30" stroke="#666" stroke-width="0.9" />
<line x1="97.25" y1="460.50" x2="97.25" y2="462.30" stroke="#666" stroke-width="0.9" />
<line x1="126.15" y1="460.50" x2="126.15" y2="462.30" stroke="#666" stroke-width="0.9" />
<line x1="155.05" y1="460.50" x2="155.05" y2="462.30" stroke="#666" stroke-width="0.9" />
<line x1="183.95" y1="460.50" x2="183.95" y2="462.30" stroke="#666" stroke-width="0.9" />
<text x="124.30" y="482.20" font-size="9.3" fill="#222" stroke="#222" stroke-width="0.22" font-weight="normal" font-style="normal" text-anchor="middle" >Pressure (kPa)</text>
<text x="22.6" y="384.0" font-size="9.8" fill="#222" stroke="#222" stroke-width="0.22" text-anchor="middle" transform="rotate(-90 22.6 384.0)">C (pF)</text>
<circle cx="60.66" cy="452.23" r="3.6" fill="url(#sph)"/>
<circle cx="62.34" cy="451.27" r="3.6" fill="url(#sph)"/>
<circle cx="64.27" cy="449.83" r="3.6" fill="url(#sph)"/>
<circle cx="66.20" cy="448.14" r="3.6" fill="url(#sph)"/>
<circle cx="67.88" cy="445.73" r="3.6" fill="url(#sph)"/>
<circle cx="69.81" cy="442.12" r="3.6" fill="url(#sph)"/>
<circle cx="71.50" cy="439.71" r="3.6" fill="url(#sph)"/>
<circle cx="73.91" cy="437.30" r="3.6" fill="url(#sph)"/>
<circle cx="76.80" cy="436.10" r="3.6" fill="url(#sph)"/>
<circle cx="78.72" cy="435.37" r="3.6" fill="url(#sph)"/>
<circle cx="82.34" cy="432.48" r="3.6" fill="url(#sph)"/>
<circle cx="86.43" cy="428.15" r="3.6" fill="url(#sph)"/>
<circle cx="89.56" cy="423.33" r="3.6" fill="url(#sph)"/>
<circle cx="92.45" cy="420.44" r="3.6" fill="url(#sph)"/>
<circle cx="96.79" cy="418.51" r="3.6" fill="url(#sph)"/>
<circle cx="101.61" cy="415.14" r="3.6" fill="url(#sph)"/>
<circle cx="105.94" cy="409.12" r="3.6" fill="url(#sph)"/>
<circle cx="111.72" cy="402.37" r="3.6" fill="url(#sph)"/>
<circle cx="114.37" cy="394.66" r="3.6" fill="url(#sph)"/>
<circle cx="118.47" cy="391.05" r="3.6" fill="url(#sph)"/>
<circle cx="122.56" cy="384.79" r="3.6" fill="url(#sph)"/>
<circle cx="126.18" cy="377.80" r="3.6" fill="url(#sph)"/>
<circle cx="130.27" cy="371.54" r="3.6" fill="url(#sph)"/>
<circle cx="136.05" cy="366.24" r="3.6" fill="url(#sph)"/>
<circle cx="140.15" cy="363.83" r="3.6" fill="url(#sph)"/>
<circle cx="144.48" cy="359.01" r="3.6" fill="url(#sph)"/>
<circle cx="147.37" cy="355.88" r="3.6" fill="url(#sph)"/>
<circle cx="154.60" cy="350.58" r="3.6" fill="url(#sph)"/>
<circle cx="161.83" cy="345.77" r="3.6" fill="url(#sph)"/>
<circle cx="169.05" cy="341.43" r="3.6" fill="url(#sph)"/>
<circle cx="176.28" cy="339.26" r="3.6" fill="url(#sph)"/>
<circle cx="183.50" cy="335.41" r="3.6" fill="url(#sph)"/>
<circle cx="190.73" cy="331.31" r="3.6" fill="url(#sph)"/>
<circle cx="198.44" cy="330.11" r="3.6" fill="url(#sph)"/>
<line x1="59.50" y1="453.00" x2="198.80" y2="314.20" stroke="#d58fb5" stroke-width="1" stroke-dasharray="2.8,2.6"/>
<text x="127.4" y="421" font-size="13" fill="#b9819c" stroke="#b9819c" stroke-width="0.22">R<tspan font-size="8" dy="-5">2</tspan><tspan dy="5"> = 98.1 %</tspan></text>
<rect x="263.50" y="307.50" width="162.00" height="154.00" fill="none" stroke="#666" stroke-width="1"/>
<line x1="260.30" y1="449.30" x2="263.50" y2="449.30" stroke="#666" stroke-width="0.9" />
<text transform="translate(258.80,452.54) scale(1,1.14)" x="0" y="0" font-size="8.7" fill="#222" stroke="#222" stroke-width="0.2" text-anchor="end">0.0</text>
<line x1="260.30" y1="425.74" x2="263.50" y2="425.74" stroke="#666" stroke-width="0.9" />
<text transform="translate(258.80,428.98) scale(1,1.14)" x="0" y="0" font-size="8.7" fill="#222" stroke="#222" stroke-width="0.2" text-anchor="end">0.2</text>
<line x1="260.30" y1="402.18" x2="263.50" y2="402.18" stroke="#666" stroke-width="0.9" />
<text transform="translate(258.80,405.42) scale(1,1.14)" x="0" y="0" font-size="8.7" fill="#222" stroke="#222" stroke-width="0.2" text-anchor="end">0.4</text>
<line x1="260.30" y1="378.62" x2="263.50" y2="378.62" stroke="#666" stroke-width="0.9" />
<text transform="translate(258.80,381.86) scale(1,1.14)" x="0" y="0" font-size="8.7" fill="#222" stroke="#222" stroke-width="0.2" text-anchor="end">0.6</text>
<line x1="260.30" y1="355.06" x2="263.50" y2="355.06" stroke="#666" stroke-width="0.9" />
<text transform="translate(258.80,358.30) scale(1,1.14)" x="0" y="0" font-size="8.7" fill="#222" stroke="#222" stroke-width="0.2" text-anchor="end">0.8</text>
<line x1="260.30" y1="331.50" x2="263.50" y2="331.50" stroke="#666" stroke-width="0.9" />
<text transform="translate(258.80,334.74) scale(1,1.14)" x="0" y="0" font-size="8.7" fill="#222" stroke="#222" stroke-width="0.2" text-anchor="end">1.0</text>
<line x1="260.30" y1="307.94" x2="263.50" y2="307.94" stroke="#666" stroke-width="0.9" />
<text transform="translate(258.80,311.18) scale(1,1.14)" x="0" y="0" font-size="8.7" fill="#222" stroke="#222" stroke-width="0.2" text-anchor="end">1.2</text>
<line x1="261.70" y1="461.08" x2="263.50" y2="461.08" stroke="#666" stroke-width="0.9" />
<line x1="261.70" y1="437.52" x2="263.50" y2="437.52" stroke="#666" stroke-width="0.9" />
<line x1="261.70" y1="413.96" x2="263.50" y2="413.96" stroke="#666" stroke-width="0.9" />
<line x1="261.70" y1="390.40" x2="263.50" y2="390.40" stroke="#666" stroke-width="0.9" />
<line x1="261.70" y1="366.84" x2="263.50" y2="366.84" stroke="#666" stroke-width="0.9" />
<line x1="261.70" y1="343.28" x2="263.50" y2="343.28" stroke="#666" stroke-width="0.9" />
<line x1="261.70" y1="319.72" x2="263.50" y2="319.72" stroke="#666" stroke-width="0.9" />
<line x1="271.10" y1="461.50" x2="271.10" y2="464.70" stroke="#666" stroke-width="0.9" />
<text transform="translate(271.10,472.90) scale(1,1.14)" x="0" y="0" font-size="8.7" fill="#222" stroke="#222" stroke-width="0.2" text-anchor="middle">0</text>
<line x1="295.45" y1="461.50" x2="295.45" y2="464.70" stroke="#666" stroke-width="0.9" />
<text transform="translate(295.45,472.90) scale(1,1.14)" x="0" y="0" font-size="8.7" fill="#222" stroke="#222" stroke-width="0.2" text-anchor="middle">3</text>
<line x1="319.80" y1="461.50" x2="319.80" y2="464.70" stroke="#666" stroke-width="0.9" />
<text transform="translate(319.80,472.90) scale(1,1.14)" x="0" y="0" font-size="8.7" fill="#222" stroke="#222" stroke-width="0.2" text-anchor="middle">6</text>
<line x1="344.15" y1="461.50" x2="344.15" y2="464.70" stroke="#666" stroke-width="0.9" />
<text transform="translate(344.15,472.90) scale(1,1.14)" x="0" y="0" font-size="8.7" fill="#222" stroke="#222" stroke-width="0.2" text-anchor="middle">9</text>
<line x1="368.50" y1="461.50" x2="368.50" y2="464.70" stroke="#666" stroke-width="0.9" />
<text transform="translate(368.50,472.90) scale(1,1.14)" x="0" y="0" font-size="8.7" fill="#222" stroke="#222" stroke-width="0.2" text-anchor="middle">12</text>
<line x1="392.86" y1="461.50" x2="392.86" y2="464.70" stroke="#666" stroke-width="0.9" />
<text transform="translate(392.86,472.90) scale(1,1.14)" x="0" y="0" font-size="8.7" fill="#222" stroke="#222" stroke-width="0.2" text-anchor="middle">15</text>
<line x1="417.21" y1="461.50" x2="417.21" y2="464.70" stroke="#666" stroke-width="0.9" />
<text transform="translate(417.21,472.90) scale(1,1.14)" x="0" y="0" font-size="8.7" fill="#222" stroke="#222" stroke-width="0.2" text-anchor="middle">18</text>
<line x1="283.28" y1="461.50" x2="283.28" y2="463.30" stroke="#666" stroke-width="0.9" />
<line x1="307.63" y1="461.50" x2="307.63" y2="463.30" stroke="#666" stroke-width="0.9" />
<line x1="331.98" y1="461.50" x2="331.98" y2="463.30" stroke="#666" stroke-width="0.9" />
<line x1="356.33" y1="461.50" x2="356.33" y2="463.30" stroke="#666" stroke-width="0.9" />
<line x1="380.68" y1="461.50" x2="380.68" y2="463.30" stroke="#666" stroke-width="0.9" />
<line x1="405.03" y1="461.50" x2="405.03" y2="463.30" stroke="#666" stroke-width="0.9" />
<text x="342.90" y="483.50" font-size="9" fill="#222" stroke="#222" stroke-width="0.22" font-weight="normal" font-style="normal" text-anchor="middle" >Time (S)</text>
<text x="240.2" y="377.8" font-size="9.4" fill="#222" stroke="#222" stroke-width="0.22" text-anchor="middle" transform="rotate(-90 240.2 377.8)"><tspan font-style="italic">ΔC</tspan> (pF)</text>
<path d="M273.54,451.12 L273.88,450.83 L274.22,450.51 L274.56,450.16 L274.91,449.78 L275.25,449.36 L275.59,448.90 L275.94,448.40 L276.28,447.86 L276.62,447.27 L276.96,446.64 L277.31,445.96 L277.65,445.23 L277.99,444.46 L278.34,443.63 L278.68,442.74 L279.02,441.81 L279.37,440.83 L279.71,439.80 L280.05,438.72 L280.39,437.60 L280.74,436.43 L281.08,435.22 L281.42,433.98 L281.77,432.71 L282.11,431.42 L282.45,430.11 L282.79,428.78 L283.14,427.45 L283.48,426.12 L283.82,424.80 L284.17,423.51 L284.51,422.23 L284.85,420.99 L285.20,419.80 L285.54,418.66 L285.88,417.58 L286.22,416.57 L286.57,415.63 L286.91,414.78 L287.25,414.01 L287.60,413.35 L287.94,412.78 L288.28,412.32 L288.62,411.97 L288.97,411.74 L289.31,411.61 L289.65,411.60 L290.00,411.71 L290.34,411.93 L290.68,412.25 L291.03,412.69 L291.37,413.23 L291.71,413.86 L292.05,414.59 L292.40,415.41 L292.74,416.30 L293.08,417.27 L293.43,418.29 L293.77,419.38 L294.11,420.51 L294.45,421.67 L294.80,422.87 L295.14,424.09 L295.48,425.32 L295.83,426.56 L296.17,427.79 L296.51,429.02 L296.86,430.23 L297.20,431.41 L297.54,432.57 L297.88,433.70 L298.23,434.78 L298.57,435.83 L298.91,436.84 L299.26,437.80 L299.60,438.71 L299.94,439.57 L300.28,440.38 L300.63,441.14 L300.97,441.85 L301.31,442.51 L301.66,443.12 L302.00,443.68 L302.34,444.20 L302.69,444.67 L303.03,445.11 L303.37,445.50 L303.71,445.85 L304.06,446.17 L304.40,446.46 L304.74,446.71 L305.09,446.93 L305.43,447.13 L305.77,447.31 L306.11,447.47 L306.46,447.60 L306.80,447.72 L307.14,447.83 L307.49,447.92 L307.83,448.00 L308.17,448.07 L308.52,448.13 L308.86,448.18 L309.20,448.22 L309.54,448.26 L309.89,448.29 L310.23,448.32 L310.57,448.35 L310.92,448.37 L311.26,448.39 L311.60,448.40 L311.94,448.42 L312.29,448.43 L312.63,448.44 L312.97,448.46 L313.32,448.47 L313.66,448.48 L314.00,448.49 L314.35,448.50 L314.69,448.51 L315.03,448.52 L315.37,448.53 L315.72,448.54 L316.06,448.54 L316.40,448.55 L316.75,448.56 L317.09,448.57 L317.43,448.58 L317.77,448.58 L318.12,448.59 L318.46,448.59 L318.80,448.59 L319.15,448.60 L319.49,448.60 L319.83,448.59 L320.18,448.59 L320.52,448.58 L320.86,448.57 L321.20,448.55 L321.55,448.53 L321.89,448.51 L322.23,448.48 L322.58,448.44 L322.92,448.39 L323.26,448.34 L323.60,448.27 L323.95,448.20 L324.29,448.11 L324.63,448.01 L324.98,447.89 L325.32,447.76 L325.66,447.61 L326.01,447.44 L326.35,447.25 L326.69,447.04 L327.03,446.80 L327.38,446.53 L327.72,446.23 L328.06,445.90 L328.41,445.53 L328.75,445.13 L329.09,444.69 L329.43,444.20 L329.78,443.67 L330.12,443.10 L330.46,442.48 L330.81,441.82 L331.15,441.10 L331.49,440.33 L331.84,439.52 L332.18,438.65 L332.52,437.74 L332.86,436.77 L333.21,435.76 L333.55,434.71 L333.89,433.61 L334.24,432.48 L334.58,431.31 L334.92,430.11 L335.26,428.89 L335.61,427.65 L335.95,426.40 L336.29,425.14 L336.64,423.88 L336.98,422.64 L337.32,421.41 L337.67,420.21 L338.01,419.04 L338.35,417.92 L338.69,416.84 L339.04,415.83 L339.38,414.88 L339.72,414.01 L340.07,413.22 L340.41,412.51 L340.75,411.91 L341.09,411.40 L341.44,410.99 L341.78,410.69 L342.12,410.50 L342.47,410.43 L342.81,410.46 L343.15,410.61 L343.50,410.87 L343.84,411.24 L344.18,411.71 L344.52,412.28 L344.87,412.95 L345.21,413.71 L345.55,414.55 L345.90,415.47 L346.24,416.46 L346.58,417.52 L346.92,418.62 L347.27,419.78 L347.61,420.97 L347.95,422.19 L348.30,423.43 L348.64,424.68 L348.98,425.94 L349.33,427.19 L349.67,428.44 L350.01,429.67 L350.35,430.87 L350.70,432.05 L351.04,433.20 L351.38,434.31 L351.73,435.38 L352.07,436.41 L352.41,437.39 L352.75,438.32 L353.10,439.21 L353.44,440.04 L353.78,440.82 L354.13,441.56 L354.47,442.24 L354.81,442.88 L355.16,443.47 L355.50,444.01 L355.84,444.51 L356.18,444.97 L356.53,445.39 L356.87,445.77 L357.21,446.11 L357.56,446.42 L357.90,446.70 L358.24,446.95 L358.59,447.17 L358.93,447.36 L359.27,447.53 L359.61,447.67 L359.96,447.80 L360.30,447.90 L360.64,447.99 L360.99,448.07 L361.33,448.13 L361.67,448.18 L362.01,448.23 L362.36,448.26 L362.70,448.29 L363.04,448.31 L363.39,448.33 L363.73,448.35 L364.07,448.36 L364.42,448.37 L364.76,448.39 L365.10,448.40 L365.44,448.42 L365.79,448.43 L366.13,448.45 L366.47,448.47 L366.82,448.50 L367.16,448.53 L367.50,448.57 L367.84,448.61 L368.19,448.65 L368.53,448.70 L368.87,448.76 L369.22,448.83 L369.56,448.90 L369.90,448.98 L370.25,449.07 L370.59,449.16 L370.93,449.26 L371.27,449.36 L371.62,449.47 L371.96,449.58 L372.30,449.69 L372.65,449.80 L372.99,449.92 L373.33,450.03 L373.67,450.14 L374.02,450.25 L374.36,450.36 L374.70,450.46 L375.05,450.56 L375.39,450.65 L375.73,450.73 L376.08,450.81 L376.42,450.87 L376.76,450.92 L377.10,450.96 L377.45,450.98 L377.79,450.99 L378.13,450.97 L378.48,450.93 L378.82,450.87 L379.16,450.77 L379.50,450.65 L379.85,450.50 L380.19,450.31 L380.53,450.08 L380.88,449.81 L381.22,449.51 L381.56,449.17 L381.91,448.78 L382.25,448.35 L382.59,447.88 L382.93,447.36 L383.28,446.79 L383.62,446.16 L383.96,445.48 L384.31,444.75 L384.65,443.95 L384.99,443.10 L385.33,442.19 L385.68,441.22 L386.02,440.20 L386.36,439.11 L386.71,437.98 L387.05,436.78 L387.39,435.54 L387.74,434.26 L388.08,432.93 L388.42,431.57 L388.76,430.17 L389.11,428.76 L389.45,427.32 L389.79,425.88 L390.14,424.44 L390.48,423.01 L390.82,421.59 L391.16,420.21 L391.51,418.85 L391.85,417.55 L392.19,416.30 L392.54,415.12 L392.88,414.01 L393.22,412.99 L393.57,412.06 L393.91,411.23 L394.25,410.50 L394.59,409.89 L394.94,409.40 L395.28,409.03 L395.62,408.79 L395.97,408.67 L396.31,408.68 L396.65,408.82 L396.99,409.09 L397.34,409.49 L397.68,410.01 L398.02,410.64 L398.37,411.39 L398.71,412.24 L399.05,413.19 L399.40,414.24 L399.74,415.36 L400.08,416.56 L400.42,417.82 L400.77,419.14 L401.11,420.50 L401.45,421.90 L401.80,423.32 L402.14,424.77 L402.48,426.21 L402.82,427.66 L403.17,429.10 L403.51,430.52 L403.85,431.92 L404.20,433.28 L404.54,434.62 L404.88,435.91 L405.23,437.15 L405.57,438.35 L405.91,439.49 L406.25,440.58 L406.60,441.61 L406.94,442.59 L407.28,443.51 L407.63,444.37 L407.97,445.17 L408.31,445.92 L408.65,446.62 L409.00,447.26 L409.34,447.85 L409.68,448.39 L410.03,448.89 L410.37,449.34 L410.71,449.75" fill="none" stroke="#f4cf98" stroke-width="0.95" />
<path d="M273.54,445.83 L273.88,445.64 L274.22,445.42 L274.56,445.17 L274.91,444.89 L275.25,444.57 L275.59,444.21 L275.94,443.81 L276.28,443.35 L276.62,442.84 L276.96,442.27 L277.31,441.64 L277.65,440.95 L277.99,440.18 L278.34,439.34 L278.68,438.43 L279.02,437.44 L279.37,436.37 L279.71,435.22 L280.05,433.99 L280.39,432.68 L280.74,431.29 L281.08,429.83 L281.42,428.29 L281.77,426.68 L282.11,425.02 L282.45,423.29 L282.79,421.52 L283.14,419.72 L283.48,417.88 L283.82,416.03 L284.17,414.17 L284.51,412.33 L284.85,410.51 L285.20,408.72 L285.54,406.99 L285.88,405.32 L286.22,403.74 L286.57,402.25 L286.91,400.87 L287.25,399.61 L287.60,398.49 L287.94,397.51 L288.28,396.69 L288.62,396.03 L288.97,395.55 L289.31,395.24 L289.65,395.11 L290.00,395.17 L290.34,395.40 L290.68,395.82 L291.03,396.40 L291.37,397.16 L291.71,398.08 L292.05,399.15 L292.40,400.36 L292.74,401.70 L293.08,403.16 L293.43,404.73 L293.77,406.38 L294.11,408.11 L294.45,409.90 L294.80,411.74 L295.14,413.61 L295.48,415.49 L295.83,417.38 L296.17,419.25 L296.51,421.11 L296.86,422.93 L297.20,424.71 L297.54,426.44 L297.88,428.11 L298.23,429.71 L298.57,431.24 L298.91,432.69 L299.26,434.07 L299.60,435.36 L299.94,436.57 L300.28,437.69 L300.63,438.73 L300.97,439.69 L301.31,440.57 L301.66,441.37 L302.00,442.09 L302.34,442.75 L302.69,443.33 L303.03,443.85 L303.37,444.31 L303.71,444.72 L304.06,445.07 L304.40,445.37 L304.74,445.63 L305.09,445.84 L305.43,446.01 L305.77,446.11 L306.11,446.14 L306.46,446.11 L306.80,446.02 L307.14,445.88 L307.49,445.70 L307.83,445.47 L308.17,445.21 L308.52,444.92 L308.86,444.61 L309.20,444.27 L309.54,443.92 L309.89,443.55 L310.23,443.18 L310.57,442.79 L310.92,442.41 L311.26,442.03 L311.60,441.65 L311.94,441.28 L312.29,440.92 L312.63,440.58 L312.97,440.25 L313.32,439.95 L313.66,439.67 L314.00,439.42 L314.35,439.20 L314.69,439.02 L315.03,438.87 L315.37,438.76 L315.72,438.70 L316.06,438.68 L316.40,438.70 L316.75,438.77 L317.09,438.88 L317.43,439.02 L317.77,439.20 L318.12,439.41 L318.46,439.64 L318.80,439.90 L319.15,440.17 L319.49,440.46 L319.83,440.77 L320.18,441.08 L320.52,441.41 L320.86,441.73 L321.20,442.06 L321.55,442.37 L321.89,442.69 L322.23,442.99 L322.58,443.27 L322.92,443.54 L323.26,443.78 L323.60,443.99 L323.95,444.17 L324.29,444.32 L324.63,444.42 L324.98,444.47 L325.32,444.48 L325.66,444.43 L326.01,444.36 L326.35,444.27 L326.69,444.15 L327.03,444.00 L327.38,443.82 L327.72,443.60 L328.06,443.35 L328.41,443.05 L328.75,442.71 L329.09,442.32 L329.43,441.88 L329.78,441.37 L330.12,440.81 L330.46,440.18 L330.81,439.49 L331.15,438.72 L331.49,437.88 L331.84,436.97 L332.18,435.98 L332.52,434.91 L332.86,433.76 L333.21,432.53 L333.55,431.23 L333.89,429.86 L334.24,428.41 L334.58,426.90 L334.92,425.33 L335.26,423.71 L335.61,422.05 L335.95,420.35 L336.29,418.62 L336.64,416.88 L336.98,415.13 L337.32,413.40 L337.67,411.69 L338.01,410.02 L338.35,408.39 L338.69,406.83 L339.04,405.35 L339.38,403.96 L339.72,402.68 L340.07,401.52 L340.41,400.48 L340.75,399.58 L341.09,398.83 L341.44,398.24 L341.78,397.82 L342.12,397.56 L342.47,397.47 L342.81,397.55 L343.15,397.80 L343.50,398.23 L343.84,398.81 L344.18,399.56 L344.52,400.46 L344.87,401.50 L345.21,402.68 L345.55,403.97 L345.90,405.38 L346.24,406.88 L346.58,408.47 L346.92,410.12 L347.27,411.83 L347.61,413.58 L347.95,415.36 L348.30,417.16 L348.64,418.95 L348.98,420.74 L349.33,422.50 L349.67,424.23 L350.01,425.91 L350.35,427.55 L350.70,429.13 L351.04,430.64 L351.38,432.09 L351.73,433.46 L352.07,434.76 L352.41,435.98 L352.75,437.12 L353.10,438.18 L353.44,439.17 L353.78,440.07 L354.13,440.90 L354.47,441.66 L354.81,442.35 L355.16,442.97 L355.50,443.52 L355.84,444.02 L356.18,444.46 L356.53,444.85 L356.87,445.19 L357.21,445.48 L357.56,445.74 L357.90,445.95 L358.24,446.12 L358.59,446.22 L358.93,446.25 L359.27,446.23 L359.61,446.16 L359.96,446.03 L360.30,445.87 L360.64,445.66 L360.99,445.43 L361.33,445.16 L361.67,444.87 L362.01,444.56 L362.36,444.23 L362.70,443.89 L363.04,443.54 L363.39,443.18 L363.73,442.82 L364.07,442.47 L364.42,442.11 L364.76,441.76 L365.10,441.43 L365.44,441.10 L365.79,440.80 L366.13,440.51 L366.47,440.24 L366.82,440.00 L367.16,439.79 L367.50,439.61 L367.84,439.46 L368.19,439.35 L368.53,439.28 L368.87,439.24 L369.22,439.23 L369.56,439.25 L369.90,439.29 L370.25,439.35 L370.59,439.43 L370.93,439.54 L371.27,439.66 L371.62,439.79 L371.96,439.95 L372.30,440.11 L372.65,440.29 L372.99,440.47 L373.33,440.67 L373.67,440.87 L374.02,441.07 L374.36,441.27 L374.70,441.48 L375.05,441.68 L375.39,441.88 L375.73,442.07 L376.08,442.26 L376.42,442.43 L376.76,442.59 L377.10,442.73 L377.45,442.85 L377.79,442.95 L378.13,443.03 L378.48,443.08 L378.82,443.09 L379.16,443.07 L379.50,443.01 L379.85,442.90 L380.19,442.76 L380.53,442.59 L380.88,442.38 L381.22,442.14 L381.56,441.85 L381.91,441.52 L382.25,441.15 L382.59,440.72 L382.93,440.24 L383.28,439.70 L383.62,439.10 L383.96,438.43 L384.31,437.69 L384.65,436.87 L384.99,435.98 L385.33,435.01 L385.68,433.97 L386.02,432.84 L386.36,431.63 L386.71,430.33 L387.05,428.96 L387.39,427.52 L387.74,426.00 L388.08,424.41 L388.42,422.76 L388.76,421.05 L389.11,419.29 L389.45,417.50 L389.79,415.67 L390.14,413.83 L390.48,411.99 L390.82,410.15 L391.16,408.33 L391.51,406.55 L391.85,404.82 L392.19,403.15 L392.54,401.57 L392.88,400.07 L393.22,398.68 L393.57,397.41 L393.91,396.28 L394.25,395.29 L394.59,394.45 L394.94,393.77 L395.28,393.26 L395.62,392.93 L395.97,392.77 L396.31,392.79 L396.65,392.99 L396.99,393.37 L397.34,393.92 L397.68,394.64 L398.02,395.52 L398.37,396.55 L398.71,397.72 L399.05,399.03 L399.40,400.45 L399.74,401.97 L400.08,403.59 L400.42,405.28 L400.77,407.04 L401.11,408.84 L401.45,410.67 L401.80,412.53 L402.14,414.39 L402.48,416.24 L402.82,418.08 L403.17,419.88 L403.51,421.65 L403.85,423.36 L404.20,425.02 L404.54,426.62 L404.88,428.15 L405.23,429.61 L405.57,430.99 L405.91,432.29 L406.25,433.51 L406.60,434.65 L406.94,435.72 L407.28,436.70 L407.63,437.61 L407.97,438.45 L408.31,439.21 L408.65,439.91 L409.00,440.54 L409.34,441.12 L409.68,441.63 L410.03,442.10 L410.37,442.51 L410.71,442.88" fill="none" stroke="#4aa898" stroke-width="0.95" />
<path d="M270.69,449.15 L271.04,449.20 L271.39,449.24 L271.74,449.27 L272.09,449.29 L272.44,449.30 L272.79,449.29 L273.14,449.27 L273.49,449.22 L273.84,449.15 L274.19,449.04 L274.54,448.90 L274.89,448.71 L275.24,448.48 L275.59,448.19 L275.94,447.83 L276.29,447.40 L276.64,446.90 L276.99,446.31 L277.35,445.62 L277.70,444.82 L278.05,443.91 L278.40,442.88 L278.75,441.71 L279.10,440.41 L279.45,438.95 L279.80,437.35 L280.15,435.59 L280.50,433.68 L280.85,431.60 L281.20,429.36 L281.55,426.97 L281.90,424.43 L282.25,421.75 L282.60,418.93 L282.95,416.00 L283.30,412.97 L283.65,409.86 L284.00,406.69 L284.35,403.49 L284.70,400.28 L285.05,397.10 L285.40,393.97 L285.75,390.92 L286.10,387.99 L286.45,385.21 L286.80,382.61 L287.15,380.23 L287.50,378.08 L287.85,376.20 L288.20,374.62 L288.55,373.34 L288.90,372.40 L289.25,371.79 L289.60,371.54 L289.95,371.65 L290.30,372.11 L290.65,372.93 L291.00,374.08 L291.35,375.57 L291.70,377.37 L292.05,379.45 L292.40,381.80 L292.75,384.40 L293.10,387.20 L293.45,390.17 L293.80,393.30 L294.15,396.54 L294.50,399.86 L294.85,403.23 L295.20,406.62 L295.55,410.01 L295.90,413.35 L296.25,416.63 L296.60,419.83 L296.95,422.92 L297.30,425.90 L297.65,428.74 L298.00,431.43 L298.35,433.96 L298.70,436.34 L299.05,438.55 L299.40,440.59 L299.75,442.47 L300.10,444.19 L300.45,445.75 L300.80,447.16 L301.15,448.42 L301.50,449.55 L301.85,450.54 L302.20,451.41 L302.55,452.17 L302.90,452.83 L303.25,453.38 L303.60,453.78 L303.95,454.02 L304.30,454.11 L304.65,454.06 L305.00,453.89 L305.35,453.61 L305.70,453.24 L306.05,452.77 L306.40,452.24 L306.75,451.65 L307.10,451.00 L307.45,450.31 L307.80,449.60 L308.15,448.86 L308.50,448.10 L308.85,447.35 L309.20,446.60 L309.55,445.86 L309.90,445.14 L310.25,444.45 L310.60,443.80 L310.95,443.20 L311.30,442.64 L311.65,442.14 L312.00,441.71 L312.35,441.36 L312.70,441.08 L313.05,440.89 L313.40,440.80 L313.75,440.77 L314.10,440.79 L314.45,440.85 L314.80,440.96 L315.15,441.12 L315.50,441.31 L315.85,441.54 L316.20,441.80 L316.55,442.10 L316.90,442.42 L317.25,442.77 L317.60,443.14 L317.95,443.54 L318.30,443.95 L318.65,444.37 L319.00,444.81 L319.35,445.26 L319.70,445.72 L320.05,446.18 L320.40,446.64 L320.75,447.09 L321.10,447.55 L321.45,447.99 L321.80,448.43 L322.15,448.85 L322.50,449.25 L322.85,449.64 L323.20,449.99 L323.55,450.32 L323.90,450.62 L324.25,450.88 L324.60,451.10 L324.95,451.28 L325.30,451.40 L325.65,451.47 L326.00,451.48 L326.35,451.41 L326.70,451.30 L327.05,451.15 L327.40,450.96 L327.75,450.72 L328.10,450.43 L328.45,450.07 L328.80,449.64 L329.15,449.14 L329.50,448.56 L329.85,447.89 L330.20,447.11 L330.55,446.23 L330.90,445.23 L331.25,444.10 L331.60,442.85 L331.95,441.45 L332.30,439.91 L332.65,438.22 L333.00,436.37 L333.35,434.37 L333.70,432.21 L334.05,429.90 L334.40,427.44 L334.75,424.83 L335.10,422.09 L335.45,419.22 L335.80,416.25 L336.15,413.18 L336.50,410.04 L336.85,406.84 L337.20,403.62 L337.55,400.41 L337.90,397.22 L338.25,394.09 L338.60,391.04 L338.95,388.12 L339.30,385.35 L339.65,382.76 L340.00,380.38 L340.35,378.24 L340.70,376.36 L341.05,374.76 L341.40,373.47 L341.75,372.51 L342.10,371.87 L342.45,371.57 L342.80,371.62 L343.15,372.00 L343.50,372.73 L343.85,373.78 L344.20,375.14 L344.55,376.80 L344.90,378.73 L345.25,380.91 L345.60,383.31 L345.95,385.91 L346.30,388.67 L346.65,391.57 L347.00,394.58 L347.35,397.65 L347.70,400.77 L348.05,403.90 L348.40,407.03 L348.75,410.11 L349.10,413.13 L349.45,416.07 L349.80,418.91 L350.15,421.63 L350.50,424.23 L350.85,426.68 L351.20,429.00 L351.55,431.16 L351.90,433.17 L352.25,435.03 L352.60,436.73 L352.95,438.29 L353.30,439.70 L353.65,440.98 L354.01,442.12 L354.36,443.14 L354.71,444.04 L355.06,444.84 L355.41,445.54 L355.76,446.14 L356.11,446.67 L356.46,447.12 L356.81,447.49 L357.16,447.79 L357.51,448.02 L357.86,448.19 L358.21,448.31 L358.56,448.38 L358.91,448.42 L359.26,448.42 L359.61,448.39 L359.96,448.33 L360.31,448.26 L360.66,448.16 L361.01,448.05 L361.36,447.93 L361.71,447.80 L362.06,447.67 L362.41,447.53 L362.76,447.39 L363.11,447.24 L363.46,447.10 L363.81,446.96 L364.16,446.83 L364.51,446.70 L364.86,446.58 L365.21,446.46 L365.56,446.36 L365.91,446.27 L366.26,446.18 L366.61,446.11 L366.96,446.06 L367.31,446.02 L367.66,445.99 L368.01,445.98 L368.36,445.99 L368.71,446.02 L369.06,446.07 L369.41,446.15 L369.76,446.24 L370.11,446.36 L370.46,446.49 L370.81,446.64 L371.16,446.81 L371.51,446.99 L371.86,447.18 L372.21,447.38 L372.56,447.59 L372.91,447.81 L373.26,448.03 L373.61,448.26 L373.96,448.50 L374.31,448.73 L374.66,448.96 L375.01,449.19 L375.36,449.42 L375.71,449.64 L376.06,449.85 L376.41,450.05 L376.76,450.23 L377.11,450.41 L377.46,450.56 L377.81,450.69 L378.16,450.80 L378.51,450.88 L378.86,450.92 L379.21,450.93 L379.56,450.90 L379.91,450.83 L380.26,450.71 L380.61,450.56 L380.96,450.37 L381.31,450.13 L381.66,449.85 L382.01,449.50 L382.36,449.08 L382.71,448.60 L383.06,448.03 L383.41,447.37 L383.76,446.62 L384.11,445.76 L384.46,444.79 L384.81,443.69 L385.16,442.47 L385.51,441.10 L385.86,439.60 L386.21,437.95 L386.56,436.14 L386.91,434.18 L387.26,432.07 L387.61,429.80 L387.96,427.39 L388.31,424.83 L388.66,422.14 L389.01,419.32 L389.36,416.40 L389.71,413.38 L390.06,410.29 L390.41,407.16 L390.76,403.99 L391.11,400.83 L391.46,397.69 L391.81,394.62 L392.16,391.63 L392.51,388.76 L392.86,386.04 L393.21,383.51 L393.56,381.18 L393.91,379.09 L394.26,377.26 L394.61,375.72 L394.96,374.48 L395.31,373.57 L395.66,372.98 L396.01,372.74 L396.36,372.84 L396.71,373.28 L397.06,374.05 L397.41,375.16 L397.76,376.57 L398.11,378.29 L398.46,380.28 L398.81,382.51 L399.16,384.98 L399.51,387.64 L399.86,390.47 L400.21,393.43 L400.56,396.50 L400.91,399.65 L401.26,402.84 L401.61,406.05 L401.96,409.24 L402.31,412.40 L402.66,415.50 L403.01,418.51 L403.36,421.43 L403.71,424.23 L404.06,426.91 L404.41,429.45 L404.76,431.84 L405.11,434.09 L405.46,436.18 L405.81,438.12 L406.16,439.91 L406.51,441.55 L406.86,443.05 L407.21,444.40 L407.56,445.63 L407.91,446.73 L408.26,447.72 L408.61,448.59 L408.96,449.37 L409.31,450.06 L409.66,450.66 L410.01,451.19 L410.36,451.65 L410.71,452.06" fill="none" stroke="#e07f9c" stroke-width="0.95" />
<path d="M277.19,449.44 L277.52,448.49 L277.86,447.42 L278.19,446.22 L278.52,444.88 L278.86,443.39 L279.19,441.74 L279.52,439.92 L279.86,437.92 L280.19,435.73 L280.53,433.35 L280.86,430.78 L281.19,428.00 L281.53,425.03 L281.86,421.85 L282.19,418.49 L282.53,414.95 L282.86,411.23 L283.20,407.36 L283.53,403.35 L283.86,399.23 L284.20,395.02 L284.53,390.75 L284.87,386.45 L285.20,382.16 L285.53,377.91 L285.87,373.73 L286.20,369.68 L286.53,365.78 L286.87,362.09 L287.20,358.63 L287.54,355.44 L287.87,352.56 L288.20,350.03 L288.54,347.86 L288.87,346.10 L289.20,344.74 L289.54,343.82 L289.87,343.35 L290.21,343.32 L290.54,343.74 L290.87,344.60 L291.21,345.88 L291.54,347.59 L291.88,349.68 L292.21,352.14 L292.54,354.94 L292.88,358.04 L293.21,361.41 L293.54,365.01 L293.88,368.80 L294.21,372.74 L294.55,376.79 L294.88,380.91 L295.21,385.07 L295.55,389.23 L295.88,393.35 L296.22,397.41 L296.55,401.37 L296.88,405.21 L297.22,408.92 L297.55,412.46 L297.88,415.83 L298.22,419.01 L298.55,422.00 L298.89,424.79 L299.22,427.38 L299.55,429.77 L299.89,431.96 L300.22,433.96 L300.55,435.77 L300.89,437.40 L301.22,438.86 L301.56,440.15 L301.89,441.30 L302.22,442.30 L302.56,443.18 L302.89,443.94 L303.23,444.58 L303.56,445.13 L303.89,445.59 L304.23,445.98 L304.56,446.29 L304.89,446.54 L305.23,446.73 L305.56,446.87 L305.90,446.95 L306.23,446.96 L306.56,446.90 L306.90,446.78 L307.23,446.62 L307.56,446.42 L307.90,446.18 L308.23,445.91 L308.57,445.62 L308.90,445.31 L309.23,444.99 L309.57,444.66 L309.90,444.33 L310.24,444.00 L310.57,443.68 L310.90,443.37 L311.24,443.07 L311.57,442.79 L311.90,442.53 L312.24,442.30 L312.57,442.10 L312.91,441.94 L313.24,441.81 L313.57,441.72 L313.91,441.68 L314.24,441.69 L314.57,441.75 L314.91,441.86 L315.24,442.01 L315.58,442.20 L315.91,442.42 L316.24,442.68 L316.58,442.97 L316.91,443.28 L317.25,443.63 L317.58,443.99 L317.91,444.38 L318.25,444.78 L318.58,445.21 L318.91,445.64 L319.25,446.09 L319.58,446.54 L319.92,447.01 L320.25,447.47 L320.58,447.94 L320.92,448.41 L321.25,448.87 L321.58,449.32 L321.92,449.77 L322.25,450.20 L322.59,450.62 L322.92,451.03 L323.25,451.41 L323.59,451.76 L323.92,452.09 L324.26,452.39 L324.59,452.65 L324.92,452.87 L325.26,453.05 L325.59,453.17 L325.92,453.25 L326.26,453.26 L326.59,453.21 L326.93,453.09 L327.26,452.93 L327.59,452.73 L327.93,452.47 L328.26,452.16 L328.59,451.79 L328.93,451.35 L329.26,450.83 L329.60,450.22 L329.93,449.51 L330.26,448.70 L330.60,447.78 L330.93,446.72 L331.27,445.53 L331.60,444.19 L331.93,442.69 L332.27,441.02 L332.60,439.17 L332.93,437.14 L333.27,434.92 L333.60,432.49 L333.94,429.87 L334.27,427.04 L334.60,424.02 L334.94,420.79 L335.27,417.38 L335.60,413.79 L335.94,410.03 L336.27,406.12 L336.61,402.09 L336.94,397.95 L337.27,393.73 L337.61,389.46 L337.94,385.18 L338.28,380.91 L338.61,376.70 L338.94,372.59 L339.28,368.61 L339.61,364.80 L339.94,361.21 L340.28,357.87 L340.61,354.81 L340.95,352.08 L341.28,349.70 L341.61,347.70 L341.95,346.09 L342.28,344.91 L342.61,344.17 L342.95,343.87 L343.28,344.01 L343.62,344.59 L343.95,345.61 L344.28,347.04 L344.62,348.88 L344.95,351.09 L345.29,353.66 L345.62,356.55 L345.95,359.72 L346.29,363.14 L346.62,366.77 L346.95,370.57 L347.29,374.51 L347.62,378.54 L347.96,382.63 L348.29,386.73 L348.62,390.82 L348.96,394.86 L349.29,398.83 L349.62,402.68 L349.96,406.42 L350.29,410.00 L350.63,413.42 L350.96,416.66 L351.29,419.72 L351.63,422.59 L351.96,425.25 L352.30,427.72 L352.63,430.00 L352.96,432.08 L353.30,433.97 L353.63,435.68 L353.96,437.22 L354.30,438.60 L354.63,439.83 L354.97,440.91 L355.30,441.86 L355.63,442.69 L355.97,443.41 L356.30,444.04 L356.63,444.57 L356.97,445.02 L357.30,445.40 L357.64,445.72 L357.97,445.98 L358.30,446.20 L358.64,446.37 L358.97,446.51 L359.31,446.60 L359.64,446.67 L359.97,446.70 L360.31,446.72 L360.64,446.71 L360.97,446.69 L361.31,446.66 L361.64,446.61 L361.98,446.56 L362.31,446.50 L362.64,446.43 L362.98,446.37 L363.31,446.29 L363.64,446.22 L363.98,446.15 L364.31,446.08 L364.65,446.01 L364.98,445.94 L365.31,445.87 L365.65,445.81 L365.98,445.76 L366.32,445.70 L366.65,445.66 L366.98,445.62 L367.32,445.58 L367.65,445.56 L367.98,445.54 L368.32,445.52 L368.65,445.52 L368.99,445.53 L369.32,445.54 L369.65,445.57 L369.99,445.60 L370.32,445.65 L370.66,445.71 L370.99,445.78 L371.32,445.88 L371.66,446.02 L371.99,446.19 L372.32,446.40 L372.66,446.63 L372.99,446.89 L373.33,447.17 L373.66,447.47 L373.99,447.78 L374.33,448.11 L374.66,448.44 L374.99,448.78 L375.33,449.11 L375.66,449.45 L376.00,449.77 L376.33,450.09 L376.66,450.39 L377.00,450.67 L377.33,450.93 L377.67,451.16 L378.00,451.36 L378.33,451.51 L378.67,451.63 L379.00,451.70 L379.33,451.71 L379.67,451.66 L380.00,451.55 L380.34,451.40 L380.67,451.22 L381.00,451.00 L381.34,450.73 L381.67,450.42 L382.00,450.05 L382.34,449.61 L382.67,449.10 L383.01,448.51 L383.34,447.83 L383.67,447.05 L384.01,446.15 L384.34,445.14 L384.68,444.00 L385.01,442.71 L385.34,441.27 L385.68,439.66 L386.01,437.89 L386.34,435.93 L386.68,433.78 L387.01,431.44 L387.35,428.90 L387.68,426.16 L388.01,423.21 L388.35,420.07 L388.68,416.73 L389.01,413.21 L389.35,409.52 L389.68,405.67 L390.02,401.68 L390.35,397.58 L390.68,393.38 L391.02,389.12 L391.35,384.84 L391.69,380.55 L392.02,376.30 L392.35,372.13 L392.69,368.08 L393.02,364.18 L393.35,360.48 L393.69,357.01 L394.02,353.81 L394.36,350.92 L394.69,348.37 L395.02,346.19 L395.36,344.40 L395.69,343.03 L396.02,342.09 L396.36,341.59 L396.69,341.54 L397.03,341.93 L397.36,342.77 L397.69,344.03 L398.03,345.71 L398.36,347.78 L398.70,350.21 L399.03,352.99 L399.36,356.06 L399.70,359.41 L400.03,362.99 L400.36,366.76 L400.70,370.68 L401.03,374.71 L401.37,378.82 L401.70,382.97 L402.03,387.12 L402.37,391.23 L402.70,395.28 L403.03,399.24 L403.37,403.08 L403.70,406.78 L404.04,410.33 L404.37,413.70 L404.70,416.89 L405.04,419.89 L405.37,422.69 L405.71,425.29 L406.04,427.70 L406.37,429.90 L406.71,431.92 L407.04,433.75 L407.37,435.40 L407.71,436.89 L408.04,438.21 L408.38,439.39 L408.71,440.43 L409.04,441.34 L409.38,442.14 L409.71,442.83 L410.04,443.42 L410.38,443.93 L410.71,444.36" fill="none" stroke="#3474c8" stroke-width="0.95" />
<line x1="266.90" y1="314.50" x2="286.80" y2="314.50" stroke="#f4cf98" stroke-width="0.75" />
<text x="289.60" y="317.70" font-size="9" fill="#222" stroke="#222" stroke-width="0.22" font-weight="normal" font-style="normal" text-anchor="start" >11 kPa</text>
<line x1="328.90" y1="314.50" x2="349.20" y2="314.50" stroke="#4aa898" stroke-width="0.75" />
<text x="351.60" y="317.70" font-size="9" fill="#222" stroke="#222" stroke-width="0.22" font-weight="normal" font-style="normal" text-anchor="start" >30 kPa</text>
<line x1="266.90" y1="325.40" x2="286.80" y2="325.40" stroke="#e07f9c" stroke-width="0.75" />
<text x="289.60" y="328.60" font-size="9" fill="#222" stroke="#222" stroke-width="0.22" font-weight="normal" font-style="normal" text-anchor="start" >42 kPa</text>
<line x1="328.90" y1="325.40" x2="349.20" y2="325.40" stroke="#3474c8" stroke-width="0.75" />
<text x="351.60" y="328.60" font-size="9" fill="#222" stroke="#222" stroke-width="0.22" font-weight="normal" font-style="normal" text-anchor="start" >62 kPa</text>
<rect x="491.50" y="307.50" width="161.00" height="153.00" fill="none" stroke="#666" stroke-width="1"/>
<line x1="488.30" y1="448.00" x2="491.50" y2="448.00" stroke="#666" stroke-width="0.9" />
<text transform="translate(487.20,451.24) scale(1,1.14)" x="0" y="0" font-size="8.7" fill="#222" stroke="#222" stroke-width="0.2" text-anchor="end">0.00</text>
<line x1="488.30" y1="424.60" x2="491.50" y2="424.60" stroke="#666" stroke-width="0.9" />
<text transform="translate(487.20,427.84) scale(1,1.14)" x="0" y="0" font-size="8.7" fill="#222" stroke="#222" stroke-width="0.2" text-anchor="end">0.02</text>
<line x1="488.30" y1="401.20" x2="491.50" y2="401.20" stroke="#666" stroke-width="0.9" />
<text transform="translate(487.20,404.44) scale(1,1.14)" x="0" y="0" font-size="8.7" fill="#222" stroke="#222" stroke-width="0.2" text-anchor="end">0.04</text>
<line x1="488.30" y1="377.80" x2="491.50" y2="377.80" stroke="#666" stroke-width="0.9" />
<text transform="translate(487.20,381.04) scale(1,1.14)" x="0" y="0" font-size="8.7" fill="#222" stroke="#222" stroke-width="0.2" text-anchor="end">0.06</text>
<line x1="488.30" y1="354.40" x2="491.50" y2="354.40" stroke="#666" stroke-width="0.9" />
<text transform="translate(487.20,357.64) scale(1,1.14)" x="0" y="0" font-size="8.7" fill="#222" stroke="#222" stroke-width="0.2" text-anchor="end">0.08</text>
<line x1="488.30" y1="331.00" x2="491.50" y2="331.00" stroke="#666" stroke-width="0.9" />
<text transform="translate(487.20,334.24) scale(1,1.14)" x="0" y="0" font-size="8.7" fill="#222" stroke="#222" stroke-width="0.2" text-anchor="end">0.10</text>
<line x1="488.30" y1="307.60" x2="491.50" y2="307.60" stroke="#666" stroke-width="0.9" />
<text transform="translate(487.20,310.84) scale(1,1.14)" x="0" y="0" font-size="8.7" fill="#222" stroke="#222" stroke-width="0.2" text-anchor="end">0.12</text>
<line x1="489.70" y1="459.70" x2="491.50" y2="459.70" stroke="#666" stroke-width="0.9" />
<line x1="489.70" y1="436.30" x2="491.50" y2="436.30" stroke="#666" stroke-width="0.9" />
<line x1="489.70" y1="412.90" x2="491.50" y2="412.90" stroke="#666" stroke-width="0.9" />
<line x1="489.70" y1="389.50" x2="491.50" y2="389.50" stroke="#666" stroke-width="0.9" />
<line x1="489.70" y1="366.10" x2="491.50" y2="366.10" stroke="#666" stroke-width="0.9" />
<line x1="489.70" y1="342.70" x2="491.50" y2="342.70" stroke="#666" stroke-width="0.9" />
<line x1="489.70" y1="319.30" x2="491.50" y2="319.30" stroke="#666" stroke-width="0.9" />
<line x1="502.80" y1="460.50" x2="502.80" y2="463.70" stroke="#666" stroke-width="0.9" />
<text transform="translate(502.80,471.80) scale(1,1.14)" x="0" y="0" font-size="8.7" fill="#222" stroke="#222" stroke-width="0.2" text-anchor="middle">0</text>
<line x1="540.20" y1="460.50" x2="540.20" y2="463.70" stroke="#666" stroke-width="0.9" />
<text transform="translate(540.20,471.80) scale(1,1.14)" x="0" y="0" font-size="8.7" fill="#222" stroke="#222" stroke-width="0.2" text-anchor="middle">1</text>
<line x1="577.60" y1="460.50" x2="577.60" y2="463.70" stroke="#666" stroke-width="0.9" />
<text transform="translate(577.60,471.80) scale(1,1.14)" x="0" y="0" font-size="8.7" fill="#222" stroke="#222" stroke-width="0.2" text-anchor="middle">2</text>
<line x1="615.00" y1="460.50" x2="615.00" y2="463.70" stroke="#666" stroke-width="0.9" />
<text transform="translate(615.00,471.80) scale(1,1.14)" x="0" y="0" font-size="8.7" fill="#222" stroke="#222" stroke-width="0.2" text-anchor="middle">3</text>
<line x1="652.40" y1="460.50" x2="652.40" y2="463.70" stroke="#666" stroke-width="0.9" />
<text transform="translate(652.40,471.80) scale(1,1.14)" x="0" y="0" font-size="8.7" fill="#222" stroke="#222" stroke-width="0.2" text-anchor="middle">4</text>
<line x1="521.50" y1="460.50" x2="521.50" y2="462.30" stroke="#666" stroke-width="0.9" />
<line x1="558.90" y1="460.50" x2="558.90" y2="462.30" stroke="#666" stroke-width="0.9" />
<line x1="596.30" y1="460.50" x2="596.30" y2="462.30" stroke="#666" stroke-width="0.9" />
<line x1="633.70" y1="460.50" x2="633.70" y2="462.30" stroke="#666" stroke-width="0.9" />
<text x="571.80" y="483.00" font-size="9" fill="#222" stroke="#222" stroke-width="0.22" font-weight="normal" font-style="normal" text-anchor="middle" >Time (S)</text>
<text x="463.0" y="380.6" font-size="9" fill="#222" stroke="#222" stroke-width="0.22" text-anchor="middle" transform="rotate(-90 463.0 380.6)">ΔC/C<tspan font-size="6.5" dy="2">0</tspan></text>
<polyline points="502.3,416.9 504.4,410.6 507.2,411.5 508.9,416.5 511.5,416.5 513.2,420.8 515.8,425 518,422.9 520.8,422.9 523.3,429.4 525.5,416 527.6,410.6 530.2,406.8 532.6,397.7 535.6,400.3 537.3,416 539.5,426.6 541.6,433 543.8,437.3 546.6,441.2 549.1,427.8 551.7,409.4 553.9,393.9 556.2,370.6 558.2,337.5 559.9,334.3 562.7,332.6 565.3,327.2 567.4,325.5 569.6,328.3 571.7,324 574.9,319.7 578.2,326.8 580.3,333.2 583.3,329.8 585.5,336.2 588.3,341.1 590.8,365.4 593.2,393.1 595.8,415.2 598.4,435 601.1,448.5 603.9,432.9 606.5,421.7 609.1,415.7 611.9,405.6 614,395.9 616.8,394.4 619.4,398.1 622,395.5 624.8,398.5 626.9,409.2 629.7,408.8 632.7,408.4 635.5,411 635.5,418.5 638.3,410.9 640.9,427.1" fill="none" stroke="#4a8fd8" stroke-width="0.8"/>
<circle cx="502.30" cy="416.90" r="3.4" fill="url(#sph)"/>
<circle cx="504.40" cy="410.60" r="3.4" fill="url(#sph)"/>
<circle cx="507.20" cy="411.50" r="3.4" fill="url(#sph)"/>
<circle cx="508.90" cy="416.50" r="3.4" fill="url(#sph)"/>
<circle cx="511.50" cy="416.50" r="3.4" fill="url(#sph)"/>
<circle cx="513.20" cy="420.80" r="3.4" fill="url(#sph)"/>
<circle cx="515.80" cy="425.00" r="3.4" fill="url(#sph)"/>
<circle cx="518.00" cy="422.90" r="3.4" fill="url(#sph)"/>
<circle cx="520.80" cy="422.90" r="3.4" fill="url(#sph)"/>
<circle cx="523.30" cy="429.40" r="3.4" fill="url(#sph)"/>
<circle cx="525.50" cy="416.00" r="3.4" fill="url(#sph)"/>
<circle cx="527.60" cy="410.60" r="3.4" fill="url(#sph)"/>
<circle cx="530.20" cy="406.80" r="3.4" fill="url(#sph)"/>
<circle cx="532.60" cy="397.70" r="3.4" fill="url(#sph)"/>
<circle cx="535.60" cy="400.30" r="3.4" fill="url(#sph)"/>
<circle cx="537.30" cy="416.00" r="3.4" fill="url(#sph)"/>
<circle cx="539.50" cy="426.60" r="3.4" fill="url(#sph)"/>
<circle cx="541.60" cy="433.00" r="3.4" fill="url(#sph)"/>
<circle cx="543.80" cy="437.30" r="3.4" fill="url(#sph)"/>
<circle cx="546.60" cy="441.20" r="3.4" fill="url(#sph)"/>
<circle cx="549.10" cy="427.80" r="3.4" fill="url(#sph)"/>
<circle cx="551.70" cy="409.40" r="3.4" fill="url(#sph)"/>
<circle cx="553.90" cy="393.90" r="3.4" fill="url(#sph)"/>
<circle cx="556.20" cy="370.60" r="3.4" fill="url(#sph)"/>
<circle cx="558.20" cy="337.50" r="3.4" fill="url(#sph)"/>
<circle cx="559.90" cy="334.30" r="3.4" fill="url(#sph)"/>
<circle cx="562.70" cy="332.60" r="3.4" fill="url(#sph)"/>
<circle cx="565.30" cy="327.20" r="3.4" fill="url(#sph)"/>
<circle cx="567.40" cy="325.50" r="3.4" fill="url(#sph)"/>
<circle cx="569.60" cy="328.30" r="3.4" fill="url(#sph)"/>
<circle cx="571.70" cy="324.00" r="3.4" fill="url(#sph)"/>
<circle cx="574.90" cy="319.70" r="3.4" fill="url(#sph)"/>
<circle cx="578.20" cy="326.80" r="3.4" fill="url(#sph)"/>
<circle cx="580.30" cy="333.20" r="3.4" fill="url(#sph)"/>
<circle cx="583.30" cy="329.80" r="3.4" fill="url(#sph)"/>
<circle cx="585.50" cy="336.20" r="3.4" fill="url(#sph)"/>
<circle cx="588.30" cy="341.10" r="3.4" fill="url(#sph)"/>
<circle cx="590.80" cy="365.40" r="3.4" fill="url(#sph)"/>
<circle cx="593.20" cy="393.10" r="3.4" fill="url(#sph)"/>
<circle cx="595.80" cy="415.20" r="3.4" fill="url(#sph)"/>
<circle cx="598.40" cy="435.00" r="3.4" fill="url(#sph)"/>
<circle cx="601.10" cy="448.50" r="3.4" fill="url(#sph)"/>
<circle cx="603.90" cy="432.90" r="3.4" fill="url(#sph)"/>
<circle cx="606.50" cy="421.70" r="3.4" fill="url(#sph)"/>
<circle cx="609.10" cy="415.70" r="3.4" fill="url(#sph)"/>
<circle cx="611.90" cy="405.60" r="3.4" fill="url(#sph)"/>
<circle cx="614.00" cy="395.90" r="3.4" fill="url(#sph)"/>
<circle cx="616.80" cy="394.40" r="3.4" fill="url(#sph)"/>
<circle cx="619.40" cy="398.10" r="3.4" fill="url(#sph)"/>
<circle cx="622.00" cy="395.50" r="3.4" fill="url(#sph)"/>
<circle cx="624.80" cy="398.50" r="3.4" fill="url(#sph)"/>
<circle cx="626.90" cy="409.20" r="3.4" fill="url(#sph)"/>
<circle cx="629.70" cy="408.80" r="3.4" fill="url(#sph)"/>
<circle cx="632.70" cy="408.40" r="3.4" fill="url(#sph)"/>
<circle cx="635.50" cy="411.00" r="3.4" fill="url(#sph)"/>
<circle cx="635.50" cy="418.50" r="3.4" fill="url(#sph)"/>
<circle cx="638.30" cy="410.90" r="3.4" fill="url(#sph)"/>
<circle cx="640.90" cy="427.10" r="3.4" fill="url(#sph)"/>
<path d="M499.00,361.90 L499.00,372.40 A22.5,7.0 0 0 0 544.00,372.40 L544.00,361.90 Z" fill="url(#gDiscBlue)" stroke="none" stroke-width="1" />
<path d="M499.00,361.90 L499.00,369.50 A22.5,7.0 0 0 0 544.00,369.50 L544.00,361.90 Z" fill="url(#gDiscSide)" stroke="none" stroke-width="1" />
<path d="M499.00,361.90 L499.00,367.50 A22.5,7.0 0 0 0 544.00,367.50 L544.00,361.90 Z" fill="url(#gDiscPink)" stroke="none" stroke-width="1" />
<path d="M499.00,361.90 L499.00,365.50 A22.5,7.0 0 0 0 544.00,365.50 L544.00,361.90 Z" fill="url(#gDiscSide)" stroke="none" stroke-width="1" />
<path d="M499.00,361.90 L499.00,364.30 A22.5,7.0 0 0 0 544.00,364.30 L544.00,361.90 Z" fill="url(#gDiscBlue)" stroke="none" stroke-width="1" />
<ellipse cx="521.5" cy="361.9" rx="22.5" ry="7.0" fill="#a9cdf2"/>
<polygon points="516.80,340.00 525.90,340.00 525.90,354.30 527.90,354.30 520.60,359.70 514.70,354.30 516.80,354.30" fill="#ad7089" stroke="none" stroke-width="1" />
<polygon points="521.40,340.00 525.90,340.00 525.90,354.30 527.90,354.30 520.60,359.70" fill="#9a6079" stroke="none" stroke-width="1" />
<text x="505.30" y="331.50" font-size="12.9" fill="#b57f98" stroke="#b57f98" stroke-width="0.22" font-weight="normal" font-style="normal" text-anchor="start" >5 kPa</text>
<rect x="46.50" y="521.50" width="607.00" height="150.70" fill="none" stroke="#666" stroke-width="1"/>
<line x1="46.80" y1="522.00" x2="46.80" y2="662.00" stroke="#c4c4c4" stroke-width="1.5" />
<line x1="46.50" y1="521.50" x2="587.00" y2="521.50" stroke="#8a8a8a" stroke-width="1" />
<line x1="587.00" y1="521.50" x2="653.50" y2="521.50" stroke="#333" stroke-width="1.1" />
<line x1="653.50" y1="521.50" x2="653.50" y2="672.20" stroke="#333" stroke-width="1.1" />
<line x1="43.30" y1="659.90" x2="46.50" y2="659.90" stroke="#666" stroke-width="0.9" />
<text transform="translate(42.80,663.00) scale(1,1.04)" x="0" y="0" font-size="9.3" fill="#222" stroke="#222" stroke-width="0.2" text-anchor="end">0.0</text>
<line x1="43.30" y1="632.20" x2="46.50" y2="632.20" stroke="#666" stroke-width="0.9" />
<text transform="translate(42.80,635.30) scale(1,1.04)" x="0" y="0" font-size="9.3" fill="#222" stroke="#222" stroke-width="0.2" text-anchor="end">0.5</text>
<line x1="43.30" y1="604.50" x2="46.50" y2="604.50" stroke="#666" stroke-width="0.9" />
<text transform="translate(42.80,607.60) scale(1,1.04)" x="0" y="0" font-size="9.3" fill="#222" stroke="#222" stroke-width="0.2" text-anchor="end">1.0</text>
<line x1="43.30" y1="576.80" x2="46.50" y2="576.80" stroke="#666" stroke-width="0.9" />
<text transform="translate(42.80,579.90) scale(1,1.04)" x="0" y="0" font-size="9.3" fill="#222" stroke="#222" stroke-width="0.2" text-anchor="end">1.5</text>
<line x1="43.30" y1="549.10" x2="46.50" y2="549.10" stroke="#666" stroke-width="0.9" />
<text transform="translate(42.80,552.20) scale(1,1.04)" x="0" y="0" font-size="9.3" fill="#222" stroke="#222" stroke-width="0.2" text-anchor="end">2.0</text>
<line x1="43.30" y1="521.40" x2="46.50" y2="521.40" stroke="#666" stroke-width="0.9" />
<text transform="translate(42.80,524.50) scale(1,1.04)" x="0" y="0" font-size="9.3" fill="#222" stroke="#222" stroke-width="0.2" text-anchor="end">2.5</text>
<line x1="44.70" y1="673.75" x2="46.50" y2="673.75" stroke="#666" stroke-width="0.9" />
<line x1="44.70" y1="646.05" x2="46.50" y2="646.05" stroke="#666" stroke-width="0.9" />
<line x1="44.70" y1="618.35" x2="46.50" y2="618.35" stroke="#666" stroke-width="0.9" />
<line x1="44.70" y1="590.65" x2="46.50" y2="590.65" stroke="#666" stroke-width="0.9" />
<line x1="44.70" y1="562.95" x2="46.50" y2="562.95" stroke="#666" stroke-width="0.9" />
<line x1="44.70" y1="535.25" x2="46.50" y2="535.25" stroke="#666" stroke-width="0.9" />
<line x1="65.50" y1="672.20" x2="65.50" y2="675.40" stroke="#666" stroke-width="0.9" />
<text transform="translate(65.50,684.60) scale(1,1.04)" x="0" y="0" font-size="9.3" fill="#222" stroke="#222" stroke-width="0.2" text-anchor="middle">0</text>
<line x1="157.40" y1="672.20" x2="157.40" y2="675.40" stroke="#666" stroke-width="0.9" />
<text transform="translate(157.40,684.60) scale(1,1.04)" x="0" y="0" font-size="9.3" fill="#222" stroke="#222" stroke-width="0.2" text-anchor="middle">1000</text>
<line x1="249.30" y1="672.20" x2="249.30" y2="675.40" stroke="#666" stroke-width="0.9" />
<text transform="translate(249.30,684.60) scale(1,1.04)" x="0" y="0" font-size="9.3" fill="#222" stroke="#222" stroke-width="0.2" text-anchor="middle">2000</text>
<line x1="341.20" y1="672.20" x2="341.20" y2="675.40" stroke="#666" stroke-width="0.9" />
<text transform="translate(341.20,684.60) scale(1,1.04)" x="0" y="0" font-size="9.3" fill="#222" stroke="#222" stroke-width="0.2" text-anchor="middle">3000</text>
<line x1="433.10" y1="672.20" x2="433.10" y2="675.40" stroke="#666" stroke-width="0.9" />
<text transform="translate(433.10,684.60) scale(1,1.04)" x="0" y="0" font-size="9.3" fill="#222" stroke="#222" stroke-width="0.2" text-anchor="middle">4000</text>
<line x1="525.00" y1="672.20" x2="525.00" y2="675.40" stroke="#666" stroke-width="0.9" />
<text transform="translate(525.00,684.60) scale(1,1.04)" x="0" y="0" font-size="9.3" fill="#222" stroke="#222" stroke-width="0.2" text-anchor="middle">5000</text>
<line x1="616.90" y1="672.20" x2="616.90" y2="675.40" stroke="#666" stroke-width="0.9" />
<text transform="translate(616.90,684.60) scale(1,1.04)" x="0" y="0" font-size="9.3" fill="#222" stroke="#222" stroke-width="0.2" text-anchor="middle">6000</text>
<line x1="111.45" y1="672.20" x2="111.45" y2="674.00" stroke="#666" stroke-width="0.9" />
<line x1="203.35" y1="672.20" x2="203.35" y2="674.00" stroke="#666" stroke-width="0.9" />
<line x1="295.25" y1="672.20" x2="295.25" y2="674.00" stroke="#666" stroke-width="0.9" />
<line x1="387.15" y1="672.20" x2="387.15" y2="674.00" stroke="#666" stroke-width="0.9" />
<line x1="479.05" y1="672.20" x2="479.05" y2="674.00" stroke="#666" stroke-width="0.9" />
<line x1="570.95" y1="672.20" x2="570.95" y2="674.00" stroke="#666" stroke-width="0.9" />
<text x="348.20" y="695.60" font-size="10" fill="#222" stroke="#222" stroke-width="0.22" font-weight="normal" font-style="normal" text-anchor="middle" >Time (S)</text>
<text x="27.0" y="593.4" font-size="11" fill="#222" stroke="#222" stroke-width="0.22" text-anchor="middle" transform="rotate(-90 27.0 593.4)"><tspan font-style="italic">ΔC</tspan> (pF)</text>
<polygon points="65.30,608.36 65.93,607.43 66.57,608.27 67.20,608.26 67.84,607.14 68.47,607.62 69.10,607.37 69.74,605.97 70.37,607.25 71.01,607.15 71.64,607.26 72.28,607.93 72.91,607.34 73.54,607.82 74.18,608.06 74.81,607.22 75.45,607.20 76.08,608.39 76.71,608.23 77.35,607.79 77.98,608.01 78.62,607.14 79.25,607.48 79.88,608.50 80.52,607.31 81.15,608.26 81.79,608.00 82.42,608.36 83.06,608.17 83.69,607.67 84.32,606.86 84.96,608.22 85.59,607.44 86.23,606.43 86.86,605.84 87.49,608.39 88.13,607.63 88.76,607.90 89.40,608.33 90.03,607.99 90.66,608.33 91.30,607.56 91.93,608.18 92.57,607.79 93.20,607.46 93.84,607.40 94.47,608.33 95.10,608.22 95.74,607.48 96.37,608.01 97.01,607.58 97.64,607.69 98.27,607.37 98.91,607.77 99.54,608.25 100.18,607.55 100.81,607.96 101.44,608.52 102.08,606.36 102.71,607.95 103.35,607.62 103.98,608.47 104.61,607.93 105.25,607.79 105.88,607.97 106.52,608.21 107.15,606.56 107.79,607.46 108.42,608.18 109.05,608.34 109.69,607.59 110.32,607.62 110.96,608.09 111.59,608.14 112.22,607.70 112.86,608.04 113.49,608.46 114.13,608.02 114.76,607.54 115.39,608.05 116.03,607.95 116.66,606.79 117.30,607.19 117.93,606.12 118.57,608.54 119.20,607.52 119.83,607.69 120.47,608.36 121.10,607.52 121.74,608.73 122.37,607.98 123.00,608.03 123.64,607.72 124.27,608.56 124.91,608.31 125.54,608.36 126.17,606.58 126.81,608.80 127.44,608.41 128.08,608.39 128.71,606.01 129.35,608.62 129.98,608.03 130.61,608.76 131.25,608.42 131.88,606.12 132.52,608.47 133.15,608.00 133.78,608.21 134.42,608.11 135.05,607.94 135.69,608.28 136.32,608.56 136.95,607.71 137.59,608.02 138.22,608.59 138.86,607.68 139.49,608.02 140.13,608.11 140.76,607.96 141.39,607.42 142.03,608.43 142.66,607.68 143.30,608.51 143.93,608.20 144.56,608.60 145.20,607.77 145.83,607.83 146.47,608.50 147.10,608.89 147.73,608.78 148.37,608.47 149.00,608.39 149.64,608.00 150.27,607.72 150.91,608.37 151.54,607.78 152.17,608.59 152.81,606.29 153.44,608.71 154.08,608.13 154.71,608.74 155.34,608.73 155.98,607.83 156.61,608.34 157.25,607.90 157.88,608.46 158.51,608.01 159.15,607.94 159.78,608.36 160.42,608.04 161.05,608.72 161.68,608.41 162.32,608.13 162.95,608.82 163.59,608.63 164.22,609.15 164.86,608.25 165.49,609.02 166.12,609.15 166.76,608.20 167.39,608.76 168.03,607.35 168.66,608.22 169.29,607.94 169.93,606.85 170.56,608.21 171.20,608.53 171.83,608.38 172.46,609.16 173.10,606.38 173.73,608.10 174.37,609.21 175.00,608.22 175.64,609.06 176.27,609.00 176.90,609.27 177.54,608.85 178.17,608.21 178.81,609.24 179.44,608.11 180.07,608.62 180.71,608.93 181.34,608.43 181.98,607.45 182.61,608.69 183.24,609.02 183.88,608.68 184.51,608.83 185.15,608.21 185.78,607.07 186.42,609.28 187.05,608.57 187.68,608.38 188.32,607.59 188.95,608.87 189.59,608.23 190.22,609.01 190.85,608.96 191.49,607.79 192.12,609.28 192.76,609.35 193.39,609.08 194.02,609.04 194.66,609.35 195.29,609.31 195.93,608.79 196.56,608.40 197.20,609.37 197.83,609.11 198.46,609.31 199.10,608.45 199.73,608.86 200.37,608.61 201.00,608.93 201.63,608.58 202.27,609.17 202.90,609.30 203.54,609.55 204.17,608.99 204.80,607.99 205.44,608.32 206.07,608.83 206.71,608.58 207.34,608.79 207.98,609.46 208.61,608.70 209.24,609.11 209.88,609.12 210.51,608.79 211.15,609.47 211.78,608.49 212.41,608.62 213.05,609.61 213.68,608.73 214.32,608.46 214.95,609.26 215.58,608.99 216.22,609.46 216.85,609.40 217.49,608.53 218.12,608.87 218.75,608.64 219.39,609.50 220.02,609.13 220.66,608.63 221.29,608.79 221.93,608.67 222.56,609.52 223.19,608.86 223.83,609.29 224.46,608.69 225.10,609.42 225.73,608.89 226.36,608.71 227.00,609.45 227.63,608.64 228.27,609.68 228.90,607.69 229.53,609.37 230.17,609.78 230.80,608.89 231.44,609.19 232.07,609.30 232.71,608.69 233.34,608.66 233.97,609.55 234.61,609.35 235.24,609.30 235.88,609.51 236.51,608.70 237.14,609.84 237.78,608.39 238.41,607.16 239.05,609.44 239.68,609.43 240.31,609.59 240.95,609.09 241.58,609.41 242.22,609.13 242.85,608.74 243.49,609.80 244.12,609.94 244.75,609.09 245.39,609.09 246.02,609.28 246.66,609.86 247.29,609.14 247.92,608.78 248.56,609.82 249.19,610.04 249.83,609.57 250.46,609.20 251.09,608.19 251.73,609.11 252.36,609.06 253.00,609.72 253.63,609.23 254.27,609.50 254.90,610.01 255.53,609.67 256.17,609.58 256.80,609.09 257.44,609.06 258.07,607.21 258.70,609.93 259.34,608.12 259.97,609.15 260.61,608.53 261.24,607.58 261.87,610.07 262.51,609.47 263.14,609.16 263.78,609.38 264.41,610.14 265.05,607.87 265.68,609.67 266.31,609.45 266.95,609.60 267.58,609.76 268.22,609.15 268.85,608.70 269.48,609.91 270.12,610.20 270.75,609.39 271.39,609.84 272.02,610.07 272.65,610.34 273.29,609.84 273.92,610.04 274.56,609.80 275.19,609.82 275.82,610.21 276.46,609.50 277.09,610.39 277.73,609.67 278.36,609.77 279.00,609.75 279.63,609.33 280.26,608.43 280.90,609.76 281.53,608.77 282.17,609.30 282.80,610.24 283.43,609.22 284.07,609.38 284.70,609.78 285.34,609.53 285.97,609.14 286.60,608.70 287.24,609.68 287.87,610.14 288.51,607.86 289.14,609.36 289.78,609.51 290.41,609.42 291.04,610.35 291.68,610.34 292.31,610.40 292.95,608.31 293.58,609.98 294.21,609.80 294.85,610.14 295.48,610.42 296.12,609.16 296.75,609.62 297.38,610.29 298.02,610.24 298.65,610.51 299.29,609.99 299.92,610.01 300.56,609.30 301.19,609.41 301.82,608.77 302.46,609.83 303.09,609.71 303.73,610.45 304.36,610.58 304.99,609.97 305.63,610.62 306.26,610.71 306.90,610.05 307.53,610.27 308.16,609.73 308.80,609.61 309.43,610.06 310.07,609.78 310.70,608.18 311.34,609.65 311.97,610.03 312.60,610.39 313.24,610.60 313.87,610.37 314.51,610.80 315.14,610.03 315.77,609.85 316.41,610.73 317.04,610.43 317.68,610.71 318.31,609.61 318.94,609.64 319.58,610.31 320.21,609.41 320.85,610.37 321.48,610.38 322.12,609.62 322.75,610.68 323.38,610.07 324.02,610.89 324.65,609.66 325.29,610.10 325.92,610.68 326.55,610.86 327.19,609.98 327.82,610.67 328.46,609.94 329.09,609.70 329.72,610.13 330.36,610.76 330.99,610.11 331.63,610.72 332.26,610.09 332.89,610.50 333.53,609.28 334.16,610.94 334.80,610.12 335.43,610.28 336.07,610.51 336.70,610.50 337.33,609.90 337.97,610.47 338.60,609.27 339.24,609.87 339.87,609.85 340.50,610.38 341.14,610.15 341.77,610.95 342.41,611.10 343.04,609.94 343.67,610.72 344.31,610.68 344.94,610.87 345.58,610.71 346.21,610.85 346.85,610.61 347.48,610.09 348.11,611.11 348.75,611.01 349.38,610.76 350.02,609.34 350.65,609.03 351.28,610.94 351.92,610.30 352.55,610.59 353.19,610.92 353.82,611.17 354.45,610.07 355.09,610.17 355.72,611.12 356.36,610.82 356.99,610.09 357.63,611.11 358.26,611.01 358.89,610.50 359.53,610.89 360.16,610.33 360.80,610.03 361.43,610.80 362.06,609.94 362.70,609.16 363.33,610.78 363.97,609.96 364.60,610.71 365.23,610.79 365.87,609.94 366.50,610.90 367.14,610.59 367.77,611.01 368.41,610.10 369.04,610.84 369.67,611.16 370.31,610.31 370.94,610.36 371.58,610.78 372.21,611.09 372.84,610.91 373.48,610.68 374.11,610.13 374.75,608.91 375.38,610.61 376.01,610.69 376.65,610.88 377.28,610.77 377.92,610.14 378.55,609.99 379.19,611.12 379.82,610.01 380.45,610.16 381.09,609.49 381.72,610.61 382.36,610.22 382.99,610.71 383.62,610.05 384.26,610.21 384.89,610.15 385.53,610.03 386.16,611.21 386.79,610.29 387.43,610.83 388.06,610.92 388.70,610.99 389.33,611.09 389.96,610.47 390.60,610.25 391.23,610.35 391.87,610.49 392.50,609.96 393.14,610.49 393.77,611.12 394.40,611.02 395.04,610.99 395.67,610.63 396.31,610.84 396.94,610.94 397.57,610.35 398.21,610.04 398.84,610.44 399.48,610.76 400.11,610.32 400.74,610.73 401.38,610.68 402.01,611.24 402.65,610.03 403.28,610.37 403.92,610.98 404.55,610.78 405.18,611.00 405.82,610.51 406.45,610.84 407.09,610.49 407.72,610.67 408.35,611.13 408.99,610.90 409.62,610.13 410.26,610.63 410.89,610.52 411.52,609.04 412.16,610.93 412.79,611.09 413.43,611.19 414.06,611.15 414.70,611.16 415.33,610.02 415.96,610.98 416.60,610.03 417.23,611.24 417.87,611.26 418.50,610.34 419.13,610.50 419.77,610.48 420.40,610.55 421.04,610.14 421.67,611.01 422.30,611.09 422.94,610.02 423.57,610.70 424.21,610.14 424.84,611.00 425.48,610.11 426.11,610.69 426.74,610.25 427.38,610.21 428.01,609.23 428.65,610.27 429.28,610.61 429.91,609.57 430.55,611.20 431.18,611.13 431.82,610.62 432.45,610.92 433.08,610.30 433.72,610.01 434.35,610.07 434.99,610.64 435.62,610.70 436.25,611.10 436.89,610.81 437.52,610.61 438.16,611.11 438.79,609.88 439.43,611.17 440.06,610.66 440.69,610.91 441.33,610.77 441.96,610.10 442.60,610.09 443.23,610.44 443.86,610.88 444.50,610.10 445.13,609.70 445.77,608.70 446.40,610.19 447.03,611.22 447.67,610.31 448.30,611.26 448.94,610.54 449.57,610.84 450.21,609.23 450.84,610.76 451.47,610.62 452.11,611.32 452.74,610.54 453.38,610.85 454.01,610.44 454.64,609.32 455.28,611.25 455.91,611.00 456.55,610.26 457.18,611.03 457.81,610.17 458.45,610.19 459.08,611.23 459.72,610.36 460.35,610.84 460.99,610.12 461.62,610.66 462.25,610.18 462.89,610.39 463.52,609.78 464.16,610.53 464.79,610.91 465.42,610.64 466.06,610.46 466.69,610.01 467.33,610.33 467.96,610.41 468.59,610.98 469.23,611.11 469.86,610.79 470.50,610.48 471.13,611.09 471.77,611.32 472.40,609.88 473.03,610.55 473.67,610.71 474.30,610.63 474.94,610.90 475.57,610.14 476.20,610.51 476.84,611.33 477.47,610.24 478.11,610.55 478.74,611.22 479.37,610.78 480.01,610.95 480.64,610.79 481.28,611.18 481.91,609.46 482.55,610.11 483.18,610.30 483.81,610.19 484.45,611.05 485.08,608.41 485.72,609.64 486.35,611.17 486.98,610.42 487.62,611.14 488.25,611.30 488.89,610.76 489.52,610.36 490.15,611.38 490.79,611.00 491.42,610.49 492.06,610.32 492.69,611.02 493.33,610.95 493.96,610.68 494.59,611.11 495.23,609.75 495.86,609.80 496.50,609.52 497.13,611.28 497.76,610.88 498.40,610.57 499.03,611.32 499.67,611.09 500.30,610.74 500.93,611.16 501.57,611.21 502.20,610.56 502.84,610.41 503.47,610.63 504.10,611.12 504.74,611.28 505.37,610.69 506.01,611.29 506.64,611.26 507.28,611.36 507.91,610.39 508.54,610.62 509.18,610.54 509.81,610.56 510.45,610.93 511.08,611.39 511.71,611.27 512.35,610.32 512.98,610.29 513.62,611.12 514.25,611.45 514.88,611.30 515.52,610.19 516.15,610.24 516.79,610.45 517.42,608.98 518.06,609.60 518.69,611.20 519.32,611.32 519.96,610.47 520.59,611.32 521.23,610.42 521.86,610.49 522.49,609.72 523.13,611.29 523.76,610.82 524.40,608.98 525.03,611.05 525.66,610.83 526.30,610.42 526.93,611.10 527.57,610.42 528.20,611.49 528.84,610.25 529.47,610.56 530.10,610.32 530.74,610.88 531.37,610.42 532.01,611.16 532.64,610.44 533.27,611.07 533.91,609.87 534.54,610.39 535.18,611.37 535.81,611.13 536.44,611.11 537.08,610.62 537.71,610.84 538.35,611.16 538.98,611.49 539.62,611.14 540.25,611.44 540.88,610.29 541.52,610.72 542.15,610.93 542.79,610.67 543.42,610.78 544.05,610.40 544.69,610.38 545.32,610.99 545.96,610.72 546.59,611.36 547.22,610.77 547.86,608.92 548.49,610.93 549.13,611.16 549.76,611.50 550.40,610.53 551.03,611.14 551.66,610.41 552.30,610.67 552.93,611.50 553.57,611.60 554.20,611.60 554.83,611.34 555.47,611.36 556.10,611.59 556.74,611.27 557.37,611.02 558.00,610.49 558.64,610.47 559.27,611.28 559.91,610.66 560.54,611.24 561.17,610.92 561.81,610.30 562.44,610.86 563.08,610.59 563.71,610.22 564.35,609.02 564.98,611.39 565.61,611.66 566.25,611.59 566.88,610.50 567.52,610.62 568.15,611.16 568.78,611.43 569.42,610.65 570.05,610.72 570.69,611.11 571.32,610.46 571.95,610.67 572.59,610.55 573.22,611.46 573.86,610.67 574.49,611.47 575.13,611.51 575.76,610.61 576.39,609.32 577.03,611.03 577.66,611.17 578.30,611.14 578.93,611.18 579.56,611.01 580.20,611.03 580.83,611.16 581.47,611.35 582.10,610.93 582.73,610.80 583.37,611.04 584.00,610.91 584.64,610.73 585.27,611.72 585.91,609.72 586.54,610.55 587.17,610.84 587.81,610.73 588.44,610.54 589.08,610.62 589.71,610.61 590.34,611.10 590.98,610.80 591.61,610.82 592.25,611.44 592.88,610.74 593.51,611.79 594.15,611.65 594.78,611.05 595.42,610.65 596.05,611.03 596.69,611.33 597.32,610.71 597.95,609.02 598.59,610.87 599.22,610.61 599.86,611.25 600.49,611.60 601.12,610.92 601.76,610.94 602.39,611.43 603.03,611.27 603.66,611.33 604.29,611.74 604.93,611.64 605.56,610.68 606.20,610.63 606.83,610.84 607.47,610.65 608.10,611.36 608.73,611.66 609.37,610.76 610.00,611.19 610.64,611.51 611.27,610.79 611.90,611.83 612.54,610.54 613.17,611.65 613.81,611.33 614.44,611.87 615.07,611.71 615.71,611.17 616.34,611.38 616.98,611.75 617.61,611.72 618.24,609.62 618.88,610.95 619.51,610.88 620.15,610.63 620.78,611.61 621.42,610.67 622.05,611.33 622.68,611.52 623.32,611.82 623.95,611.82 624.59,610.74 625.22,611.72 625.85,610.63 626.49,610.87 627.12,611.69 627.76,611.05 628.39,611.63 629.02,610.81 629.66,611.16 630.29,611.02 630.93,611.46 631.56,609.60 632.20,611.26 632.83,611.75 633.46,611.34 634.10,611.07 634.73,611.43 635.37,610.84 636.00,611.58 636.00,659.23 635.37,659.48 634.73,660.05 634.10,659.95 633.46,659.91 632.83,660.27 632.20,660.22 631.56,660.04 630.93,659.53 630.29,659.68 629.66,660.26 629.02,659.43 628.39,659.77 627.76,660.08 627.12,659.28 626.49,659.79 625.85,659.65 625.22,659.98 624.59,659.79 623.95,659.30 623.32,659.21 622.68,660.13 622.05,659.95 621.42,659.55 620.78,660.11 620.15,659.45 619.51,660.21 618.88,659.21 618.24,660.40 617.61,659.90 616.98,660.74 616.34,661.51 615.71,660.05 615.07,660.28 614.44,660.19 613.81,659.33 613.17,661.13 612.54,659.87 611.90,659.84 611.27,659.34 610.64,659.74 610.00,659.90 609.37,659.21 608.73,659.44 608.10,659.79 607.47,660.31 606.83,660.34 606.20,659.47 605.56,661.55 604.93,659.31 604.29,659.87 603.66,659.26 603.03,661.40 602.39,659.22 601.76,660.08 601.12,660.50 600.49,660.05 599.86,659.14 599.22,659.46 598.59,659.26 597.95,659.30 597.32,660.87 596.69,659.51 596.05,659.76 595.42,659.41 594.78,659.48 594.15,660.20 593.51,660.24 592.88,660.26 592.25,659.88 591.61,659.73 590.98,659.86 590.34,660.30 589.71,659.68 589.08,659.32 588.44,659.76 587.81,659.15 587.17,660.28 586.54,660.01 585.91,659.62 585.27,659.19 584.64,659.16 584.00,659.94 583.37,660.11 582.73,659.69 582.10,660.25 581.47,659.89 580.83,659.01 580.20,659.88 579.56,660.48 578.93,659.86 578.30,660.54 577.66,660.20 577.03,659.72 576.39,659.07 575.76,659.25 575.13,659.16 574.49,660.18 573.86,659.97 573.22,659.51 572.59,660.58 571.95,659.43 571.32,659.12 570.69,659.25 570.05,660.52 569.42,659.19 568.78,658.98 568.15,659.87 567.52,659.05 566.88,659.92 566.25,659.92 565.61,660.19 564.98,659.46 564.35,658.91 563.71,659.50 563.08,660.49 562.44,660.09 561.81,659.45 561.17,659.56 560.54,658.92 559.91,659.64 559.27,659.63 558.64,659.78 558.00,659.74 557.37,659.70 556.74,659.42 556.10,659.11 555.47,659.49 554.83,660.11 554.20,659.29 553.57,658.98 552.93,660.48 552.30,659.26 551.66,659.47 551.03,659.39 550.40,660.82 549.76,659.13 549.13,659.93 548.49,659.93 547.86,659.98 547.22,659.17 546.59,659.95 545.96,661.58 545.32,659.66 544.69,659.09 544.05,658.86 543.42,659.38 542.79,658.82 542.15,660.11 541.52,660.04 540.88,659.64 540.25,659.08 539.62,659.55 538.98,659.71 538.35,659.44 537.71,659.81 537.08,658.81 536.44,659.96 535.81,659.94 535.18,659.35 534.54,659.99 533.91,659.67 533.27,658.93 532.64,659.41 532.01,659.47 531.37,661.07 530.74,658.85 530.10,658.76 529.47,661.30 528.84,659.16 528.20,659.31 527.57,660.73 526.93,659.47 526.30,658.73 525.66,659.60 525.03,660.84 524.40,659.15 523.76,659.01 523.13,659.32 522.49,658.86 521.86,659.27 521.23,659.23 520.59,659.42 519.96,659.35 519.32,658.83 518.69,659.75 518.06,659.72 517.42,659.46 516.79,658.95 516.15,659.77 515.52,658.81 514.88,659.74 514.25,659.30 513.62,658.75 512.98,658.73 512.35,659.02 511.71,659.24 511.08,659.34 510.45,658.72 509.81,659.59 509.18,659.46 508.54,658.69 507.91,659.77 507.28,659.59 506.64,659.65 506.01,659.62 505.37,659.53 504.74,659.00 504.10,659.66 503.47,658.61 502.84,659.83 502.20,660.44 501.57,659.08 500.93,659.38 500.30,660.55 499.67,659.60 499.03,658.87 498.40,660.98 497.76,659.07 497.13,659.47 496.50,659.49 495.86,659.66 495.23,659.78 494.59,658.61 493.96,659.09 493.33,658.63 492.69,659.16 492.06,658.57 491.42,658.91 490.79,659.57 490.15,658.60 489.52,658.77 488.89,659.74 488.25,659.11 487.62,659.12 486.98,659.54 486.35,658.52 485.72,659.78 485.08,658.67 484.45,659.70 483.81,658.58 483.18,658.94 482.55,658.59 481.91,659.25 481.28,658.56 480.64,659.24 480.01,658.62 479.37,658.87 478.74,659.07 478.11,660.52 477.47,659.37 476.84,659.71 476.20,659.60 475.57,658.87 474.94,658.77 474.30,658.93 473.67,658.91 473.03,659.35 472.40,658.78 471.77,658.99 471.13,658.71 470.50,660.44 469.86,659.59 469.23,659.12 468.59,658.71 467.96,658.44 467.33,659.01 466.69,659.50 466.06,658.42 465.42,659.65 464.79,658.40 464.16,660.34 463.52,659.38 462.89,659.43 462.25,658.46 461.62,658.54 460.99,659.63 460.35,659.62 459.72,659.02 459.08,658.60 458.45,658.87 457.81,658.71 457.18,659.50 456.55,658.38 455.91,659.19 455.28,659.03 454.64,658.41 454.01,658.95 453.38,658.44 452.74,658.59 452.11,658.91 451.47,658.82 450.84,658.97 450.21,659.13 449.57,658.61 448.94,658.42 448.30,658.52 447.67,659.23 447.03,659.31 446.40,658.37 445.77,658.86 445.13,658.62 444.50,658.75 443.86,659.29 443.23,658.52 442.60,660.06 441.96,658.48 441.33,659.32 440.69,658.81 440.06,658.64 439.43,658.67 438.79,659.62 438.16,659.27 437.52,658.58 436.89,659.23 436.25,660.17 435.62,658.98 434.99,659.72 434.35,659.70 433.72,659.54 433.08,658.63 432.45,658.32 431.82,658.47 431.18,659.44 430.55,659.31 429.91,659.55 429.28,658.33 428.65,659.44 428.01,660.99 427.38,659.81 426.74,659.00 426.11,658.78 425.48,659.49 424.84,658.80 424.21,660.16 423.57,659.06 422.94,659.41 422.30,658.36 421.67,659.33 421.04,658.43 420.40,659.13 419.77,658.66 419.13,659.20 418.50,658.89 417.87,658.62 417.23,659.05 416.60,658.96 415.96,659.60 415.33,659.57 414.70,659.07 414.06,659.12 413.43,659.18 412.79,660.45 412.16,659.84 411.52,658.64 410.89,658.61 410.26,660.59 409.62,659.37 408.99,658.57 408.35,659.12 407.72,659.12 407.09,658.50 406.45,658.44 405.82,658.40 405.18,659.55 404.55,659.23 403.92,658.70 403.28,659.52 402.65,658.61 402.01,658.77 401.38,659.58 400.74,658.66 400.11,659.01 399.48,660.66 398.84,658.75 398.21,660.82 397.57,659.24 396.94,659.02 396.31,659.33 395.67,659.09 395.04,659.61 394.40,658.75 393.77,658.55 393.14,658.64 392.50,659.64 391.87,659.77 391.23,659.59 390.60,659.22 389.96,658.80 389.33,660.71 388.70,658.67 388.06,660.59 387.43,659.19 386.79,658.43 386.16,659.00 385.53,658.84 384.89,659.88 384.26,659.29 383.62,658.58 382.99,659.57 382.36,660.13 381.72,658.46 381.09,658.65 380.45,658.92 379.82,658.64 379.19,658.87 378.55,658.74 377.92,658.79 377.28,659.14 376.65,659.24 376.01,658.91 375.38,658.95 374.75,659.42 374.11,658.83 373.48,658.85 372.84,659.37 372.21,658.74 371.58,660.42 370.94,658.83 370.31,658.96 369.67,659.64 369.04,658.71 368.41,659.36 367.77,658.93 367.14,658.90 366.50,658.59 365.87,658.59 365.23,659.52 364.60,658.65 363.97,658.64 363.33,658.47 362.70,658.83 362.06,659.23 361.43,658.88 360.80,658.77 360.16,658.63 359.53,660.04 358.89,658.82 358.26,659.03 357.63,658.89 356.99,658.69 356.36,659.33 355.72,658.53 355.09,658.97 354.45,659.50 353.82,658.73 353.19,660.24 352.55,658.56 351.92,658.73 351.28,658.40 350.65,659.25 350.02,659.35 349.38,659.26 348.75,659.31 348.11,659.58 347.48,658.60 346.85,659.38 346.21,659.51 345.58,659.44 344.94,658.48 344.31,659.10 343.67,658.97 343.04,659.30 342.41,659.65 341.77,659.18 341.14,658.85 340.50,658.87 339.87,658.68 339.24,658.67 338.60,659.42 337.97,659.60 337.33,659.38 336.70,658.35 336.07,659.37 335.43,658.79 334.80,659.24 334.16,658.45 333.53,658.81 332.89,658.30 332.26,659.36 331.63,659.22 330.99,659.35 330.36,659.12 329.72,659.37 329.09,659.23 328.46,658.68 327.82,659.09 327.19,659.33 326.55,658.85 325.92,658.96 325.29,658.46 324.65,658.84 324.02,658.92 323.38,658.99 322.75,658.37 322.12,658.50 321.48,658.60 320.85,659.19 320.21,660.07 319.58,658.41 318.94,659.58 318.31,658.40 317.68,658.84 317.04,659.11 316.41,658.47 315.77,659.60 315.14,660.05 314.51,659.14 313.87,658.63 313.24,658.90 312.60,659.21 311.97,658.98 311.34,659.47 310.70,658.40 310.07,658.74 309.43,658.35 308.80,658.97 308.16,658.37 307.53,659.15 306.90,660.09 306.26,660.24 305.63,658.95 304.99,657.95 304.36,660.53 303.73,658.26 303.09,658.51 302.46,658.87 301.82,659.38 301.19,658.64 300.56,658.60 299.92,658.49 299.29,659.01 298.65,658.65 298.02,658.46 297.38,658.60 296.75,658.04 296.12,658.45 295.48,658.83 294.85,658.20 294.21,658.76 293.58,658.39 292.95,658.57 292.31,658.92 291.68,659.05 291.04,659.25 290.41,658.48 289.78,658.94 289.14,658.94 288.51,658.72 287.87,658.11 287.24,658.78 286.60,657.64 285.97,658.39 285.34,658.22 284.70,658.55 284.07,657.95 283.43,657.70 282.80,659.32 282.17,658.42 281.53,658.30 280.90,659.58 280.26,657.70 279.63,657.85 279.00,658.57 278.36,658.37 277.73,658.38 277.09,658.16 276.46,658.65 275.82,658.72 275.19,658.44 274.56,658.12 273.92,658.15 273.29,657.95 272.65,657.54 272.02,657.44 271.39,658.61 270.75,657.85 270.12,657.63 269.48,657.62 268.85,658.83 268.22,657.47 267.58,658.04 266.95,658.21 266.31,658.15 265.68,657.93 265.05,657.98 264.41,657.91 263.78,658.14 263.14,658.43 262.51,657.30 261.87,658.15 261.24,657.85 260.61,657.54 259.97,657.53 259.34,658.35 258.70,658.40 258.07,657.85 257.44,657.39 256.80,658.33 256.17,657.36 255.53,658.45 254.90,658.90 254.27,657.80 253.63,657.49 253.00,657.56 252.36,658.07 251.73,657.90 251.09,657.75 250.46,658.09 249.83,658.16 249.19,657.40 248.56,657.26 247.92,657.44 247.29,657.61 246.66,657.05 246.02,657.41 245.39,657.79 244.75,657.97 244.12,657.02 243.49,657.50 242.85,657.26 242.22,657.93 241.58,657.97 240.95,656.79 240.31,657.44 239.68,657.68 239.05,657.36 238.41,657.88 237.78,657.34 237.14,657.87 236.51,656.68 235.88,657.12 235.24,656.83 234.61,657.46 233.97,657.84 233.34,657.01 232.71,657.42 232.07,657.37 231.44,658.22 230.80,656.59 230.17,657.54 229.53,657.15 228.90,656.59 228.27,658.09 227.63,657.45 227.00,656.82 226.36,657.07 225.73,656.44 225.10,657.50 224.46,656.54 223.83,657.22 223.19,656.93 222.56,657.44 221.93,656.88 221.29,656.41 220.66,656.74 220.02,657.36 219.39,656.74 218.75,656.16 218.12,656.70 217.49,657.05 216.85,657.28 216.22,656.16 215.58,657.20 214.95,656.53 214.32,656.97 213.68,656.97 213.05,658.34 212.41,656.25 211.78,656.05 211.15,656.74 210.51,656.38 209.88,656.97 209.24,657.03 208.61,656.11 207.98,655.93 207.34,656.13 206.71,656.84 206.07,656.85 205.44,656.45 204.80,656.66 204.17,656.74 203.54,656.71 202.90,656.84 202.27,655.87 201.63,656.65 201.00,656.71 200.37,656.65 199.73,655.96 199.10,656.85 198.46,656.84 197.83,656.02 197.20,657.25 196.56,656.35 195.93,656.10 195.29,656.25 194.66,655.65 194.02,657.20 193.39,656.53 192.76,656.72 192.12,655.68 191.49,655.84 190.85,656.79 190.22,656.91 189.59,656.38 188.95,655.73 188.32,656.20 187.68,655.93 187.05,656.97 186.42,656.54 185.78,656.14 185.15,655.89 184.51,656.66 183.88,656.59 183.24,656.62 182.61,656.04 181.98,656.80 181.34,655.83 180.71,656.90 180.07,656.26 179.44,656.49 178.81,656.50 178.17,655.86 177.54,658.17 176.90,656.80 176.27,656.06 175.64,657.06 175.00,658.02 174.37,658.42 173.73,657.01 173.10,656.60 172.46,656.61 171.83,657.08 171.20,655.81 170.56,656.06 169.93,657.43 169.29,656.66 168.66,656.01 168.03,656.15 167.39,656.65 166.76,656.59 166.12,656.16 165.49,656.94 164.86,655.98 164.22,656.09 163.59,657.09 162.95,656.79 162.32,656.76 161.68,656.46 161.05,656.62 160.42,658.16 159.78,656.26 159.15,657.08 158.51,656.51 157.88,656.94 157.25,657.14 156.61,657.49 155.98,656.97 155.34,657.42 154.71,656.68 154.08,656.36 153.44,656.08 152.81,657.10 152.17,656.84 151.54,656.18 150.91,656.89 150.27,656.74 149.64,656.44 149.00,657.67 148.37,657.14 147.73,657.14 147.10,656.61 146.47,657.15 145.83,657.19 145.20,657.26 144.56,656.46 143.93,656.06 143.30,656.65 142.66,658.27 142.03,656.31 141.39,657.15 140.76,656.86 140.13,656.02 139.49,656.56 138.86,657.12 138.22,656.88 137.59,657.29 136.95,657.35 136.32,657.20 135.69,656.48 135.05,657.29 134.42,656.62 133.78,656.53 133.15,656.83 132.52,657.34 131.88,656.66 131.25,656.39 130.61,656.43 129.98,657.44 129.35,657.54 128.71,657.00 128.08,656.92 127.44,657.03 126.81,657.61 126.17,656.69 125.54,657.31 124.91,657.45 124.27,656.61 123.64,657.07 123.00,657.55 122.37,658.14 121.74,657.83 121.10,657.50 120.47,657.65 119.83,657.22 119.20,657.26 118.57,657.23 117.93,656.82 117.30,657.72 116.66,657.05 116.03,656.90 115.39,658.01 114.76,657.57 114.13,657.27 113.49,657.28 112.86,657.65 112.22,658.24 111.59,658.26 110.96,657.55 110.32,657.64 109.69,658.27 109.05,658.11 108.42,657.19 107.79,658.33 107.15,657.62 106.52,657.78 105.88,657.81 105.25,658.13 104.61,658.22 103.98,657.55 103.35,657.89 102.71,657.75 102.08,657.87 101.44,657.42 100.81,657.51 100.18,657.65 99.54,658.45 98.91,657.98 98.27,657.52 97.64,657.78 97.01,657.49 96.37,657.63 95.74,658.45 95.10,657.65 94.47,660.31 93.84,658.26 93.20,658.64 92.57,658.02 91.93,660.35 91.30,658.30 90.66,658.80 90.03,658.41 89.40,658.14 88.76,659.46 88.13,658.59 87.49,658.47 86.86,658.31 86.23,658.31 85.59,658.22 84.96,657.90 84.32,660.64 83.69,659.45 83.06,658.04 82.42,659.14 81.79,658.07 81.15,658.91 80.52,659.25 79.88,658.09 79.25,658.36 78.62,658.64 77.98,658.46 77.35,659.23 76.71,659.05 76.08,658.77 75.45,658.44 74.81,658.61 74.18,659.38 73.54,658.89 72.91,658.84 72.28,658.83 71.64,658.41 71.01,658.74 70.37,658.57 69.74,658.55 69.10,658.76 68.47,659.08 67.84,660.08 67.20,659.62 66.57,658.63 65.93,659.22 65.30,659.05" fill="#5096da" stroke="none" stroke-width="1" />
<rect x="64.5" y="605.8" width="4.3" height="55.6" fill="none" stroke="#b87a92" stroke-width="1.3" stroke-dasharray="4.5,1.6"/>
<rect x="632.0" y="606.8" width="4.5" height="55.5" fill="none" stroke="#b87a92" stroke-width="1.3" stroke-dasharray="4.5,1.6"/>
<polygon points="615.20,591.20 624.70,591.20 622.40,593.60 629.50,600.50 624.90,605.00 617.90,599.10 615.40,600.80" fill="#b5798f" stroke="none" stroke-width="1" />
<polygon points="86.00,591.20 76.50,591.20 78.80,593.60 71.70,600.50 76.30,605.00 83.30,599.10 85.80,600.80" fill="#b5798f" stroke="none" stroke-width="1" />
<text x="311.60" y="596.90" font-size="13.8" fill="#b77f99" stroke="#b77f99" stroke-width="0.22" font-weight="normal" font-style="italic" text-anchor="start" >P</text>
<text x="328.60" y="596.90" font-size="13.8" fill="#b77f99" stroke="#b77f99" stroke-width="0.22" font-weight="normal" font-style="normal" text-anchor="start" >=</text>
<text x="339.90" y="596.90" font-size="13.8" fill="#b77f99" stroke="#b77f99" stroke-width="0.22" font-weight="normal" font-style="normal" text-anchor="start" >72</text>
<text x="358.80" y="596.90" font-size="13.8" fill="#b77f99" stroke="#b77f99" stroke-width="0.22" font-weight="normal" font-style="normal" text-anchor="start" >kPa</text>
<rect x="101" y="531.4" width="190.3" height="59.80000000000007" fill="#fff" stroke="#888" stroke-width="0.8"/>
<line x1="98.80" y1="585.20" x2="101.00" y2="585.20" stroke="#666" stroke-width="0.7" />
<text transform="translate(98.20,587.68) scale(1,1.1)" x="0" y="0" font-size="6.3" fill="#222" stroke="#222" stroke-width="0.2" text-anchor="end">0.0</text>
<line x1="98.80" y1="574.45" x2="101.00" y2="574.45" stroke="#666" stroke-width="0.7" />
<text transform="translate(98.20,576.93) scale(1,1.1)" x="0" y="0" font-size="6.3" fill="#222" stroke="#222" stroke-width="0.2" text-anchor="end">0.2</text>
<line x1="98.80" y1="563.70" x2="101.00" y2="563.70" stroke="#666" stroke-width="0.7" />
<text transform="translate(98.20,566.18) scale(1,1.1)" x="0" y="0" font-size="6.3" fill="#222" stroke="#222" stroke-width="0.2" text-anchor="end">0.4</text>
<line x1="98.80" y1="552.95" x2="101.00" y2="552.95" stroke="#666" stroke-width="0.7" />
<text transform="translate(98.20,555.43) scale(1,1.1)" x="0" y="0" font-size="6.3" fill="#222" stroke="#222" stroke-width="0.2" text-anchor="end">0.6</text>
<line x1="98.80" y1="542.20" x2="101.00" y2="542.20" stroke="#666" stroke-width="0.7" />
<text transform="translate(98.20,544.68) scale(1,1.1)" x="0" y="0" font-size="6.3" fill="#222" stroke="#222" stroke-width="0.2" text-anchor="end">0.8</text>
<line x1="98.80" y1="531.45" x2="101.00" y2="531.45" stroke="#666" stroke-width="0.7" />
<text transform="translate(98.20,533.93) scale(1,1.1)" x="0" y="0" font-size="6.3" fill="#222" stroke="#222" stroke-width="0.2" text-anchor="end">1.0</text>
<line x1="99.70" y1="590.58" x2="101.00" y2="590.58" stroke="#666" stroke-width="0.7" />
<line x1="99.70" y1="579.83" x2="101.00" y2="579.83" stroke="#666" stroke-width="0.7" />
<line x1="99.70" y1="569.08" x2="101.00" y2="569.08" stroke="#666" stroke-width="0.7" />
<line x1="99.70" y1="558.33" x2="101.00" y2="558.33" stroke="#666" stroke-width="0.7" />
<line x1="99.70" y1="547.58" x2="101.00" y2="547.58" stroke="#666" stroke-width="0.7" />
<line x1="99.70" y1="536.83" x2="101.00" y2="536.83" stroke="#666" stroke-width="0.7" />
<line x1="109.90" y1="591.20" x2="109.90" y2="593.40" stroke="#666" stroke-width="0.7" />
<text transform="translate(109.90,598.80) scale(1,1.1)" x="0" y="0" font-size="6.3" fill="#222" stroke="#222" stroke-width="0.2" text-anchor="middle">0</text>
<line x1="139.15" y1="591.20" x2="139.15" y2="593.40" stroke="#666" stroke-width="0.7" />
<text transform="translate(139.15,598.80) scale(1,1.1)" x="0" y="0" font-size="6.3" fill="#222" stroke="#222" stroke-width="0.2" text-anchor="middle">5</text>
<line x1="168.40" y1="591.20" x2="168.40" y2="593.40" stroke="#666" stroke-width="0.7" />
<text transform="translate(168.40,598.80) scale(1,1.1)" x="0" y="0" font-size="6.3" fill="#222" stroke="#222" stroke-width="0.2" text-anchor="middle">10</text>
<line x1="197.65" y1="591.20" x2="197.65" y2="593.40" stroke="#666" stroke-width="0.7" />
<text transform="translate(197.65,598.80) scale(1,1.1)" x="0" y="0" font-size="6.3" fill="#222" stroke="#222" stroke-width="0.2" text-anchor="middle">15</text>
<line x1="226.90" y1="591.20" x2="226.90" y2="593.40" stroke="#666" stroke-width="0.7" />
<text transform="translate(226.90,598.80) scale(1,1.1)" x="0" y="0" font-size="6.3" fill="#222" stroke="#222" stroke-width="0.2" text-anchor="middle">20</text>
<line x1="256.15" y1="591.20" x2="256.15" y2="593.40" stroke="#666" stroke-width="0.7" />
<text transform="translate(256.15,598.80) scale(1,1.1)" x="0" y="0" font-size="6.3" fill="#222" stroke="#222" stroke-width="0.2" text-anchor="middle">25</text>
<line x1="285.40" y1="591.20" x2="285.40" y2="593.40" stroke="#666" stroke-width="0.7" />
<text transform="translate(285.40,598.80) scale(1,1.1)" x="0" y="0" font-size="6.3" fill="#222" stroke="#222" stroke-width="0.2" text-anchor="middle">30</text>
<line x1="124.53" y1="591.20" x2="124.53" y2="592.50" stroke="#666" stroke-width="0.7" />
<line x1="153.78" y1="591.20" x2="153.78" y2="592.50" stroke="#666" stroke-width="0.7" />
<line x1="183.03" y1="591.20" x2="183.03" y2="592.50" stroke="#666" stroke-width="0.7" />
<line x1="212.28" y1="591.20" x2="212.28" y2="592.50" stroke="#666" stroke-width="0.7" />
<line x1="241.53" y1="591.20" x2="241.53" y2="592.50" stroke="#666" stroke-width="0.7" />
<line x1="270.77" y1="591.20" x2="270.77" y2="592.50" stroke="#666" stroke-width="0.7" />
<text x="196.80" y="604.70" font-size="6.8" fill="#222" stroke="#222" stroke-width="0.22" font-weight="normal" font-style="normal" text-anchor="middle" >Time (S)</text>
<path d="M109.90,582.25 L110.20,582.16 L110.49,582.03 L110.79,581.83 L111.09,581.55 L111.39,581.18 L111.68,580.67 L111.98,580.01 L112.28,579.16 L112.58,578.09 L112.87,576.78 L113.17,575.20 L113.47,573.32 L113.77,571.15 L114.06,568.69 L114.36,565.95 L114.66,562.97 L114.96,559.80 L115.25,556.51 L115.55,553.20 L115.85,549.97 L116.14,546.91 L116.44,544.15 L116.74,541.78 L117.04,539.92 L117.33,538.63 L117.63,537.98 L117.93,537.99 L118.23,538.66 L118.52,539.98 L118.82,541.88 L119.12,544.29 L119.42,547.10 L119.71,550.22 L120.01,553.54 L120.31,556.93 L120.61,560.31 L120.90,563.57 L121.20,566.65 L121.50,569.50 L121.80,572.06 L122.09,574.33 L122.39,576.30 L122.69,577.97 L122.98,579.36 L123.28,580.49 L123.58,581.40 L123.88,582.11 L124.17,582.66 L124.47,583.06 L124.77,583.35 L125.07,583.55 L125.36,583.56 L125.66,583.24 L125.96,582.67 L126.26,581.98 L126.55,581.25 L126.85,580.58 L127.15,580.07 L127.45,579.81 L127.74,579.77 L128.04,579.85 L128.34,580.03 L128.63,580.28 L128.93,580.57 L129.23,580.89 L129.53,581.21 L129.82,581.50 L130.12,581.75 L130.42,581.92 L130.72,582.00 L131.01,581.96 L131.31,581.82 L131.61,581.60 L131.91,581.31 L132.20,580.98 L132.50,580.60 L132.80,580.21 L133.10,579.79 L133.39,579.38 L133.69,578.98 L133.99,578.61 L134.28,578.27 L134.58,577.99 L134.88,577.77 L135.18,577.62 L135.47,577.53 L135.77,577.48 L136.07,577.46 L136.37,577.48 L136.66,577.52 L136.96,577.59 L137.26,577.67 L137.56,577.76 L137.85,577.85 L138.15,577.95 L138.45,578.04 L138.75,578.12 L139.04,578.19 L139.34,578.23 L139.64,578.23 L139.93,578.22 L140.23,578.20 L140.53,578.21 L140.83,578.26 L141.12,578.38 L141.42,578.57 L141.72,578.93 L142.02,579.55 L142.31,580.26 L142.61,580.93 L142.91,581.38 L143.21,581.45 L143.50,581.17 L143.80,580.76 L144.10,580.19 L144.40,579.44 L144.69,578.47 L144.99,577.26 L145.29,575.78 L145.59,574.00 L145.88,571.93 L146.18,569.56 L146.48,566.90 L146.77,563.98 L147.07,560.87 L147.37,557.62 L147.67,554.32 L147.96,551.07 L148.26,547.98 L148.56,545.16 L148.86,542.72 L149.15,540.76 L149.45,539.36 L149.75,538.58 L150.05,538.47 L150.34,539.03 L150.64,540.23 L150.94,542.03 L151.24,544.36 L151.53,547.11 L151.83,550.19 L152.13,553.49 L152.42,556.88 L152.72,560.27 L153.02,563.57 L153.32,566.70 L153.61,569.59 L153.91,572.21 L154.21,574.53 L154.51,576.54 L154.80,578.26 L155.10,579.68 L155.40,580.85 L155.70,581.78 L155.99,582.50 L156.29,583.05 L156.59,583.46 L156.89,583.71 L157.18,583.75 L157.48,583.59 L157.78,583.28 L158.07,582.86 L158.37,582.36 L158.67,581.81 L158.97,581.23 L159.26,580.66 L159.56,580.12 L159.86,579.64 L160.16,579.24 L160.45,578.93 L160.75,578.76 L161.05,578.69 L161.35,578.65 L161.64,578.64 L161.94,578.66 L162.24,578.71 L162.54,578.78 L162.83,578.86 L163.13,578.97 L163.43,579.09 L163.72,579.23 L164.02,579.38 L164.32,579.53 L164.62,579.70 L164.91,579.87 L165.21,580.04 L165.51,580.21 L165.81,580.38 L166.10,580.55 L166.40,580.71 L166.70,580.86 L167.00,581.00 L167.29,581.12 L167.59,581.23 L167.89,581.33 L168.19,581.40 L168.48,581.45 L168.78,581.43 L169.08,581.34 L169.38,581.21 L169.67,581.04 L169.97,580.86 L170.27,580.68 L170.56,580.53 L170.86,580.41 L171.16,580.36 L171.46,580.38 L171.75,580.42 L172.05,580.49 L172.35,580.58 L172.65,580.70 L172.94,580.85 L173.24,581.03 L173.54,581.24 L173.84,581.47 L174.13,581.74 L174.43,582.09 L174.73,582.69 L175.03,583.42 L175.32,584.10 L175.62,584.58 L175.92,584.67 L176.21,584.34 L176.51,583.87 L176.81,583.23 L177.11,582.41 L177.40,581.36 L177.70,580.06 L178.00,578.48 L178.30,576.61 L178.59,574.41 L178.89,571.90 L179.19,569.09 L179.49,566.00 L179.78,562.70 L180.08,559.24 L180.38,555.71 L180.68,552.22 L180.97,548.87 L181.27,545.79 L181.57,543.08 L181.86,540.86 L182.16,539.22 L182.46,538.21 L182.76,537.90 L183.05,538.29 L183.35,539.35 L183.65,541.06 L183.95,543.32 L184.24,546.05 L184.54,549.15 L184.84,552.48 L185.14,555.94 L185.43,559.42 L185.73,562.81 L186.03,566.04 L186.33,569.04 L186.62,571.75 L186.92,574.16 L187.22,576.26 L187.51,578.04 L187.81,579.52 L188.11,580.72 L188.41,581.67 L188.70,582.41 L189.00,582.97 L189.30,583.37 L189.60,583.63 L189.89,583.69 L190.19,583.58 L190.49,583.33 L190.79,582.97 L191.08,582.54 L191.38,582.07 L191.68,581.56 L191.98,581.06 L192.27,580.59 L192.57,580.15 L192.87,579.78 L193.16,579.50 L193.46,579.32 L193.76,579.23 L194.06,579.19 L194.35,579.17 L194.65,579.19 L194.95,579.23 L195.25,579.29 L195.54,579.37 L195.84,579.48 L196.14,579.59 L196.44,579.72 L196.73,579.86 L197.03,580.01 L197.33,580.16 L197.63,580.32 L197.92,580.47 L198.22,580.63 L198.52,580.77 L198.82,580.91 L199.11,581.04 L199.41,581.16 L199.71,581.26 L200.00,581.34 L200.30,581.40 L200.60,581.44 L200.90,581.44 L201.19,581.38 L201.49,581.29 L201.79,581.17 L202.09,581.02 L202.38,580.86 L202.68,580.70 L202.98,580.54 L203.28,580.39 L203.57,580.26 L203.87,580.16 L204.17,580.11 L204.47,580.09 L204.76,580.14 L205.06,580.25 L205.36,580.43 L205.65,580.77 L205.95,581.26 L206.25,581.85 L206.55,582.52 L206.84,583.23 L207.14,583.93 L207.44,584.60 L207.74,585.18 L208.03,585.64 L208.33,585.93 L208.63,586.00 L208.93,585.82 L209.22,585.52 L209.52,585.08 L209.82,584.47 L210.12,583.67 L210.41,582.63 L210.71,581.32 L211.01,579.72 L211.30,577.79 L211.60,575.53 L211.90,572.92 L212.20,569.99 L212.49,566.75 L212.79,563.27 L213.09,559.60 L213.39,555.85 L213.68,552.12 L213.98,548.52 L214.28,545.18 L214.58,542.22 L214.87,539.77 L215.17,537.91 L215.47,536.74 L215.77,536.29 L216.06,536.59 L216.36,537.62 L216.66,539.34 L216.95,541.67 L217.25,544.51 L217.55,547.76 L217.85,551.27 L218.14,554.94 L218.44,558.64 L218.74,562.26 L219.04,565.70 L219.33,568.91 L219.63,571.82 L219.93,574.39 L220.23,576.63 L220.52,578.52 L220.82,580.08 L221.12,581.33 L221.42,582.12 L221.71,582.45 L222.01,582.40 L222.31,582.06 L222.61,581.51 L222.90,580.81 L223.20,580.05 L223.50,579.30 L223.79,578.61 L224.09,578.05 L224.39,577.69 L224.69,577.55 L224.98,577.52 L225.28,577.57 L225.58,577.68 L225.88,577.85 L226.17,578.07 L226.47,578.33 L226.77,578.63 L227.07,578.96 L227.36,579.31 L227.66,579.67 L227.96,580.03 L228.26,580.39 L228.55,580.73 L228.85,581.05 L229.15,581.33 L229.44,581.57 L229.74,581.77 L230.04,581.90 L230.34,581.97 L230.63,581.97 L230.93,581.93 L231.23,581.85 L231.53,581.74 L231.82,581.59 L232.12,581.42 L232.42,581.23 L232.72,581.01 L233.01,580.78 L233.31,580.54 L233.61,580.30 L233.91,580.05 L234.20,579.80 L234.50,579.55 L234.80,579.32 L235.09,579.09 L235.39,578.89 L235.69,578.70 L235.99,578.54 L236.28,578.40 L236.58,578.30 L236.88,578.23 L237.18,578.20 L237.47,578.22 L237.77,578.40 L238.07,578.79 L238.37,579.33 L238.66,579.96 L238.96,580.64 L239.26,581.31 L239.56,581.91 L239.85,582.39 L240.15,582.70 L240.45,582.78 L240.75,582.77 L241.04,582.71 L241.34,582.57 L241.64,582.34 L241.93,582.00 L242.23,581.51 L242.53,580.85 L242.83,579.99 L243.12,578.89 L243.42,577.52 L243.72,575.86 L244.02,573.90 L244.31,571.62 L244.61,569.04 L244.91,566.18 L245.21,563.08 L245.50,559.81 L245.80,556.44 L246.10,553.07 L246.40,549.80 L246.69,546.75 L246.99,544.04 L247.29,541.76 L247.58,540.03 L247.88,538.91 L248.18,538.45 L248.48,538.67 L248.77,539.57 L249.07,541.12 L249.37,543.24 L249.67,545.84 L249.96,548.83 L250.26,552.09 L250.56,555.51 L250.86,558.97 L251.15,562.38 L251.45,565.63 L251.75,568.67 L252.05,571.44 L252.34,573.91 L252.64,576.05 L252.94,577.88 L253.23,579.39 L253.53,580.61 L253.83,581.57 L254.13,582.00 L254.42,581.79 L254.72,581.09 L255.02,580.05 L255.32,578.80 L255.61,577.49 L255.91,576.26 L256.21,575.23 L256.51,574.54 L256.80,574.31 L257.10,574.26 L257.40,574.25 L257.70,574.28 L257.99,574.35 L258.29,574.46 L258.59,574.60 L258.88,574.78 L259.18,574.99 L259.48,575.22 L259.78,575.48 L260.07,575.76 L260.37,576.06 L260.67,576.38 L260.97,576.70 L261.26,577.03 L261.56,577.37 L261.86,577.70 L262.16,578.04 L262.45,578.36 L262.75,578.68 L263.05,578.98 L263.35,579.27 L263.64,579.54 L263.94,579.78 L264.24,579.99 L264.53,580.17 L264.83,580.32 L265.13,580.43 L265.43,580.49 L265.72,580.51 L266.02,580.49 L266.32,580.44 L266.62,580.36 L266.91,580.27 L267.21,580.17 L267.51,580.05 L267.81,579.94 L268.10,579.84 L268.40,579.75 L268.70,579.68 L269.00,579.63 L269.29,579.62 L269.59,579.64 L269.89,579.71 L270.19,579.82 L270.48,580.01 L270.78,580.27 L271.08,580.59 L271.37,580.96 L271.67,581.38 L271.97,581.81 L272.27,582.26 L272.56,582.71 L272.86,583.14 L273.16,583.53 L273.46,583.87 L273.75,584.14 L274.05,584.31 L274.35,584.36 L274.65,584.26 L274.94,583.98 L275.24,583.55 L275.54,582.98 L275.84,582.22 L276.13,581.25 L276.43,580.04 L276.73,578.56 L277.02,576.78 L277.32,574.68 L277.62,572.27 L277.92,569.55 L278.21,566.53 L278.51,563.26 L278.81,559.81 L279.11,556.24 L279.40,552.66 L279.70,549.18 L280.00,545.90 L280.30,542.94 L280.59,540.42 L280.89,538.44 L281.19,537.07 L281.49,536.37 L281.78,536.37 L282.08,537.07 L282.38,538.42 L282.67,540.38 L282.97,542.85 L283.27,545.74 L283.57,548.92 L283.86,552.29 L284.16,555.72 L284.46,559.12 L284.76,562.40 L285.05,565.47 L285.35,568.30 L285.65,570.83 L285.95,573.05 L286.24,574.96 L286.54,576.58 L286.84,577.91 L287.14,578.99 L287.43,579.84 L287.73,580.50 L288.03,581.01 L288.32,581.38" fill="none" stroke="#3d6fa8" stroke-width="0.8" />
<text x="86.2" y="561" font-size="6.4" fill="#222" stroke="#222" stroke-width="0.22" text-anchor="middle" transform="rotate(-90 86.2 561)"><tspan font-style="italic">ΔC</tspan> (pF)</text>
<rect x="408.8" y="531.4" width="197.2" height="60.200000000000045" fill="#fff" stroke="#888" stroke-width="0.8"/>
<line x1="406.60" y1="586.30" x2="408.80" y2="586.30" stroke="#666" stroke-width="0.7" />
<text transform="translate(406.00,588.78) scale(1,1.1)" x="0" y="0" font-size="6.3" fill="#222" stroke="#222" stroke-width="0.2" text-anchor="end">0.0</text>
<line x1="406.60" y1="575.30" x2="408.80" y2="575.30" stroke="#666" stroke-width="0.7" />
<text transform="translate(406.00,577.78) scale(1,1.1)" x="0" y="0" font-size="6.3" fill="#222" stroke="#222" stroke-width="0.2" text-anchor="end">0.2</text>
<line x1="406.60" y1="564.30" x2="408.80" y2="564.30" stroke="#666" stroke-width="0.7" />
<text transform="translate(406.00,566.78) scale(1,1.1)" x="0" y="0" font-size="6.3" fill="#222" stroke="#222" stroke-width="0.2" text-anchor="end">0.4</text>
<line x1="406.60" y1="553.30" x2="408.80" y2="553.30" stroke="#666" stroke-width="0.7" />
<text transform="translate(406.00,555.78) scale(1,1.1)" x="0" y="0" font-size="6.3" fill="#222" stroke="#222" stroke-width="0.2" text-anchor="end">0.6</text>
<line x1="406.60" y1="542.30" x2="408.80" y2="542.30" stroke="#666" stroke-width="0.7" />
<text transform="translate(406.00,544.78) scale(1,1.1)" x="0" y="0" font-size="6.3" fill="#222" stroke="#222" stroke-width="0.2" text-anchor="end">0.8</text>
<line x1="406.60" y1="531.30" x2="408.80" y2="531.30" stroke="#666" stroke-width="0.7" />
<text transform="translate(406.00,533.78) scale(1,1.1)" x="0" y="0" font-size="6.3" fill="#222" stroke="#222" stroke-width="0.2" text-anchor="end">1.0</text>
<line x1="407.50" y1="591.80" x2="408.80" y2="591.80" stroke="#666" stroke-width="0.7" />
<line x1="407.50" y1="580.80" x2="408.80" y2="580.80" stroke="#666" stroke-width="0.7" />
<line x1="407.50" y1="569.80" x2="408.80" y2="569.80" stroke="#666" stroke-width="0.7" />
<line x1="407.50" y1="558.80" x2="408.80" y2="558.80" stroke="#666" stroke-width="0.7" />
<line x1="407.50" y1="547.80" x2="408.80" y2="547.80" stroke="#666" stroke-width="0.7" />
<line x1="407.50" y1="536.80" x2="408.80" y2="536.80" stroke="#666" stroke-width="0.7" />
<line x1="420.70" y1="591.60" x2="420.70" y2="593.80" stroke="#666" stroke-width="0.7" />
<text transform="translate(420.70,600.30) scale(1,1.1)" x="0" y="0" font-size="6.3" fill="#222" stroke="#222" stroke-width="0.2" text-anchor="middle">6180</text>
<line x1="449.65" y1="591.60" x2="449.65" y2="593.80" stroke="#666" stroke-width="0.7" />
<text transform="translate(449.65,600.30) scale(1,1.1)" x="0" y="0" font-size="6.3" fill="#222" stroke="#222" stroke-width="0.2" text-anchor="middle">6185</text>
<line x1="478.60" y1="591.60" x2="478.60" y2="593.80" stroke="#666" stroke-width="0.7" />
<text transform="translate(478.60,600.30) scale(1,1.1)" x="0" y="0" font-size="6.3" fill="#222" stroke="#222" stroke-width="0.2" text-anchor="middle">6190</text>
<line x1="507.55" y1="591.60" x2="507.55" y2="593.80" stroke="#666" stroke-width="0.7" />
<text transform="translate(507.55,600.30) scale(1,1.1)" x="0" y="0" font-size="6.3" fill="#222" stroke="#222" stroke-width="0.2" text-anchor="middle">6195</text>
<line x1="536.50" y1="591.60" x2="536.50" y2="593.80" stroke="#666" stroke-width="0.7" />
<text transform="translate(536.50,600.30) scale(1,1.1)" x="0" y="0" font-size="6.3" fill="#222" stroke="#222" stroke-width="0.2" text-anchor="middle">6200</text>
<line x1="565.45" y1="591.60" x2="565.45" y2="593.80" stroke="#666" stroke-width="0.7" />
<text transform="translate(565.45,600.30) scale(1,1.1)" x="0" y="0" font-size="6.3" fill="#222" stroke="#222" stroke-width="0.2" text-anchor="middle">6205</text>
<line x1="594.40" y1="591.60" x2="594.40" y2="593.80" stroke="#666" stroke-width="0.7" />
<text transform="translate(594.40,600.30) scale(1,1.1)" x="0" y="0" font-size="6.3" fill="#222" stroke="#222" stroke-width="0.2" text-anchor="middle">6210</text>
<line x1="435.18" y1="591.60" x2="435.18" y2="592.90" stroke="#666" stroke-width="0.7" />
<line x1="464.12" y1="591.60" x2="464.12" y2="592.90" stroke="#666" stroke-width="0.7" />
<line x1="493.07" y1="591.60" x2="493.07" y2="592.90" stroke="#666" stroke-width="0.7" />
<line x1="522.02" y1="591.60" x2="522.02" y2="592.90" stroke="#666" stroke-width="0.7" />
<line x1="550.98" y1="591.60" x2="550.98" y2="592.90" stroke="#666" stroke-width="0.7" />
<line x1="579.92" y1="591.60" x2="579.92" y2="592.90" stroke="#666" stroke-width="0.7" />
<text x="504.40" y="607.90" font-size="6.8" fill="#222" stroke="#222" stroke-width="0.22" font-weight="normal" font-style="normal" text-anchor="middle" >Time (S)</text>
<path d="M420.70,584.09 L420.99,583.72 L421.29,583.22 L421.58,582.57 L421.87,581.73 L422.17,580.67 L422.46,579.36 L422.75,577.77 L423.05,575.90 L423.34,573.72 L423.63,571.23 L423.93,568.46 L424.22,565.45 L424.51,562.23 L424.81,558.89 L425.10,555.52 L425.39,552.20 L425.69,549.06 L425.98,546.20 L426.27,543.74 L426.57,541.78 L426.86,540.40 L427.15,539.66 L427.45,539.60 L427.74,540.23 L428.03,541.52 L428.33,543.41 L428.62,545.83 L428.91,548.70 L429.21,551.89 L429.50,555.29 L429.79,558.80 L430.09,562.31 L430.38,565.72 L430.67,568.95 L430.97,571.95 L431.26,574.67 L431.55,577.09 L431.85,579.20 L432.14,581.01 L432.43,582.53 L432.73,583.78 L433.02,584.79 L433.31,585.60 L433.61,586.23 L433.90,586.71 L434.19,587.07 L434.49,587.33 L434.78,587.52 L435.07,587.65 L435.37,587.69 L435.66,587.57 L435.95,587.31 L436.25,586.93 L436.54,586.49 L436.83,585.99 L437.13,585.48 L437.42,584.99 L437.71,584.54 L438.01,584.16 L438.30,583.85 L438.59,583.52 L438.89,583.19 L439.18,582.84 L439.48,582.49 L439.77,582.14 L440.06,581.78 L440.36,581.43 L440.65,581.07 L440.94,580.73 L441.24,580.38 L441.53,580.05 L441.82,579.73 L442.12,579.42 L442.41,579.13 L442.70,578.85 L443.00,578.59 L443.29,578.36 L443.58,578.14 L443.88,577.95 L444.17,577.79 L444.46,577.66 L444.76,577.56 L445.05,577.49 L445.34,577.47 L445.64,577.50 L445.93,577.58 L446.22,577.70 L446.52,577.86 L446.81,578.06 L447.10,578.29 L447.40,578.55 L447.69,578.84 L447.98,579.15 L448.28,579.48 L448.57,579.82 L448.86,580.18 L449.16,580.54 L449.45,580.91 L449.74,581.28 L450.04,581.65 L450.33,582.02 L450.62,582.57 L450.92,583.28 L451.21,584.07 L451.50,584.86 L451.80,585.58 L452.09,586.12 L452.38,586.42 L452.68,586.42 L452.97,586.30 L453.26,586.11 L453.56,585.82 L453.85,585.40 L454.14,584.83 L454.44,584.08 L454.73,583.11 L455.02,581.89 L455.32,580.41 L455.61,578.62 L455.90,576.52 L456.20,574.11 L456.49,571.39 L456.78,568.38 L457.08,565.14 L457.37,561.73 L457.66,558.22 L457.96,554.72 L458.25,551.34 L458.54,548.19 L458.84,545.38 L459.13,543.03 L459.42,541.23 L459.72,540.06 L460.01,539.56 L460.30,539.77 L460.60,540.67 L460.89,542.22 L461.18,544.35 L461.48,546.99 L461.77,550.02 L462.06,553.33 L462.36,556.80 L462.65,560.33 L462.94,563.80 L463.24,567.13 L463.53,570.26 L463.82,573.12 L464.12,575.68 L464.41,577.93 L464.70,579.86 L465.00,581.49 L465.29,582.83 L465.58,583.92 L465.88,584.79 L466.17,585.46 L466.46,585.97 L466.76,586.34 L467.05,586.60 L467.34,586.73 L467.64,586.72 L467.93,586.59 L468.22,586.36 L468.52,586.07 L468.81,585.73 L469.10,585.35 L469.40,584.95 L469.69,584.55 L469.98,584.16 L470.28,583.79 L470.57,583.46 L470.86,583.13 L471.16,582.80 L471.45,582.46 L471.74,582.12 L472.04,581.78 L472.33,581.44 L472.62,581.11 L472.92,580.78 L473.21,580.47 L473.50,580.16 L473.80,579.86 L474.09,579.58 L474.38,579.29 L474.68,579.00 L474.97,578.69 L475.26,578.39 L475.56,578.09 L475.85,577.79 L476.15,577.50 L476.44,577.23 L476.73,576.97 L477.03,576.72 L477.32,576.50 L477.61,576.30 L477.91,576.13 L478.20,575.99 L478.49,575.88 L478.79,575.80 L479.08,575.73 L479.37,575.66 L479.67,575.61 L479.96,575.58 L480.25,575.58 L480.55,575.61 L480.84,575.68 L481.13,575.81 L481.43,575.98 L481.72,576.23 L482.01,576.54 L482.31,576.92 L482.60,577.39 L482.89,578.05 L483.19,579.05 L483.48,580.30 L483.77,581.71 L484.07,583.17 L484.36,584.58 L484.65,585.85 L484.95,586.86 L485.24,587.52 L485.53,587.70 L485.83,587.54 L486.12,587.25 L486.41,586.82 L486.71,586.21 L487.00,585.40 L487.29,584.36 L487.59,583.05 L487.88,581.45 L488.17,579.54 L488.47,577.32 L488.76,574.77 L489.05,571.93 L489.35,568.82 L489.64,565.50 L489.93,562.04 L490.23,558.52 L490.52,555.06 L490.81,551.76 L491.11,548.73 L491.40,546.10 L491.69,543.95 L491.99,542.38 L492.28,541.45 L492.57,541.20 L492.87,541.63 L493.16,542.73 L493.45,544.44 L493.75,546.68 L494.04,549.37 L494.33,552.39 L494.63,555.64 L494.92,558.99 L495.21,562.34 L495.51,565.59 L495.80,568.68 L496.09,571.53 L496.39,574.11 L496.68,576.39 L496.97,578.36 L497.27,580.02 L497.56,581.40 L497.85,582.51 L498.15,583.39 L498.44,584.07 L498.73,584.58 L499.03,584.91 L499.32,584.98 L499.61,584.82 L499.91,584.49 L500.20,584.05 L500.49,583.55 L500.79,583.04 L501.08,582.57 L501.37,582.18 L501.67,581.92 L501.96,581.78 L502.25,581.69 L502.55,581.62 L502.84,581.58 L503.13,581.57 L503.43,581.58 L503.72,581.60 L504.01,581.64 L504.31,581.69 L504.60,581.75 L504.89,581.81 L505.19,581.87 L505.48,581.93 L505.77,581.98 L506.07,582.02 L506.36,582.04 L506.65,582.04 L506.95,582.02 L507.24,581.98 L507.53,581.90 L507.83,581.76 L508.12,581.50 L508.41,581.16 L508.71,580.78 L509.00,580.38 L509.29,579.99 L509.59,579.65 L509.88,579.37 L510.17,579.20 L510.47,579.15 L510.76,579.18 L511.05,579.23 L511.35,579.30 L511.64,579.39 L511.93,579.49 L512.23,579.61 L512.52,579.75 L512.82,579.90 L513.11,580.07 L513.40,580.24 L513.70,580.43 L513.99,580.63 L514.28,580.84 L514.58,581.05 L514.87,581.27 L515.16,581.49 L515.46,581.72 L515.75,581.93 L516.04,582.14 L516.34,582.33 L516.63,582.64 L516.92,583.04 L517.22,583.46 L517.51,583.82 L517.80,584.04 L518.10,584.05 L518.39,583.76 L518.68,583.11 L518.98,582.21 L519.27,581.06 L519.56,579.65 L519.86,577.94 L520.15,575.92 L520.44,573.58 L520.74,570.93 L521.03,568.00 L521.32,564.83 L521.62,561.48 L521.91,558.03 L522.20,554.58 L522.50,551.24 L522.79,548.12 L523.08,545.33 L523.38,543.00 L523.67,541.21 L523.96,540.05 L524.26,539.56 L524.55,539.77 L524.84,540.68 L525.14,542.25 L525.43,544.41 L525.72,547.07 L526.02,550.14 L526.31,553.50 L526.60,557.03 L526.90,560.61 L527.19,564.15 L527.48,567.56 L527.78,570.75 L528.07,573.68 L528.36,576.31 L528.66,578.62 L528.95,580.61 L529.24,582.29 L529.54,583.69 L529.83,584.81 L530.12,585.71 L530.42,586.40 L530.71,586.92 L531.00,587.24 L531.30,587.32 L531.59,587.21 L531.88,586.95 L532.18,586.58 L532.47,586.14 L532.76,585.65 L533.06,585.14 L533.35,584.65 L533.64,584.19 L533.94,583.80 L534.23,583.49 L534.52,583.23 L534.82,582.98 L535.11,582.74 L535.40,582.51 L535.70,582.29 L535.99,582.09 L536.28,581.89 L536.58,581.70 L536.87,581.52 L537.16,581.35 L537.46,581.19 L537.75,581.04 L538.04,580.89 L538.34,580.74 L538.63,580.60 L538.92,580.46 L539.22,580.33 L539.51,580.20 L539.80,580.06 L540.10,579.93 L540.39,579.79 L540.68,579.66 L540.98,579.53 L541.27,579.41 L541.56,579.31 L541.86,579.21 L542.15,579.13 L542.44,579.07 L542.74,579.03 L543.03,579.01 L543.32,579.02 L543.62,579.05 L543.91,579.12 L544.20,579.21 L544.50,579.36 L544.79,579.54 L545.08,579.75 L545.38,580.00 L545.67,580.27 L545.96,580.57 L546.26,580.89 L546.55,581.21 L546.84,581.55 L547.14,581.89 L547.43,582.23 L547.72,582.56 L548.02,582.88 L548.31,583.23 L548.60,583.65 L548.90,584.11 L549.19,584.57 L549.49,584.97 L549.78,585.25 L550.07,585.36 L550.37,585.24 L550.66,584.92 L550.95,584.46 L551.25,583.85 L551.54,583.05 L551.83,582.04 L552.13,580.79 L552.42,579.26 L552.71,577.45 L553.01,575.34 L553.30,572.93 L553.59,570.23 L553.89,567.28 L554.18,564.14 L554.47,560.85 L554.77,557.52 L555.06,554.24 L555.35,551.10 L555.65,548.24 L555.94,545.74 L556.23,543.72 L556.53,542.25 L556.82,541.41 L557.11,541.21 L557.41,541.69 L557.70,542.80 L557.99,544.52 L558.29,546.76 L558.58,549.43 L558.87,552.44 L559.17,555.66 L559.46,559.00 L559.75,562.34 L560.05,565.60 L560.34,568.69 L560.63,571.57 L560.93,574.17 L561.22,576.49 L561.51,578.50 L561.81,580.22 L562.10,581.65 L562.39,582.83 L562.69,583.77 L562.98,584.51 L563.27,585.06 L563.57,585.41 L563.86,585.56 L564.15,585.57 L564.45,585.46 L564.74,585.27 L565.03,585.01 L565.33,584.72 L565.62,584.42 L565.91,584.12 L566.21,583.84 L566.50,583.60 L566.79,583.41 L567.09,583.23 L567.38,583.05 L567.67,582.88 L567.97,582.72 L568.26,582.57 L568.55,582.42 L568.85,582.28 L569.14,582.15 L569.43,582.02 L569.73,581.90 L570.02,581.79 L570.31,581.67 L570.61,581.57 L570.90,581.46 L571.19,581.37 L571.49,581.27 L571.78,581.16 L572.07,581.05 L572.37,580.94 L572.66,580.82 L572.95,580.70 L573.25,580.58 L573.54,580.46 L573.83,580.33 L574.13,580.21 L574.42,580.09 L574.71,579.97 L575.01,579.86 L575.30,579.75 L575.59,579.64 L575.89,579.54 L576.18,579.45 L576.47,579.36 L576.77,579.28 L577.06,579.21 L577.35,579.15 L577.65,579.10 L577.94,579.06 L578.23,579.03 L578.53,579.01 L578.82,579.01 L579.11,579.02 L579.41,579.05 L579.70,579.08 L579.99,579.13 L580.29,579.30 L580.58,579.59 L580.87,579.97 L581.17,580.41 L581.46,580.87 L581.75,581.32 L582.05,581.70 L582.34,581.98 L582.63,582.11 L582.93,582.04 L583.22,581.71 L583.51,581.08 L583.81,580.21 L584.10,579.10 L584.39,577.74 L584.69,576.09 L584.98,574.13 L585.27,571.87 L585.57,569.31 L585.86,566.47 L586.16,563.39 L586.45,560.14 L586.74,556.79 L587.04,553.43 L587.33,550.16 L587.62,547.10 L587.92,544.36 L588.21,542.04 L588.50,540.24 L588.80,539.04 L589.09,538.49 L589.38,538.60 L589.68,539.39 L589.97,540.81 L590.26,542.80 L590.56,545.29 L590.85,548.17 L591.14,551.33 L591.44,554.67 L591.73,558.08 L592.02,561.45 L592.32,564.70 L592.61,567.75 L592.90,570.56 L593.20,573.10 L593.49,575.33 L593.78,577.26 L594.08,578.91 L594.37,580.28 L594.66,581.40 L594.96,582.31 L595.25,583.03 L595.54,583.59 L595.84,584.03 L596.13,584.36 L596.42,584.62 L596.72,584.81" fill="none" stroke="#3d6fa8" stroke-width="0.8" />
<text x="392.2" y="561.5" font-size="6.4" fill="#222" stroke="#222" stroke-width="0.22" text-anchor="middle" transform="rotate(-90 392.2 561.5)"><tspan font-style="italic">ΔC</tspan> (pF)</text>
</svg></body></html>
